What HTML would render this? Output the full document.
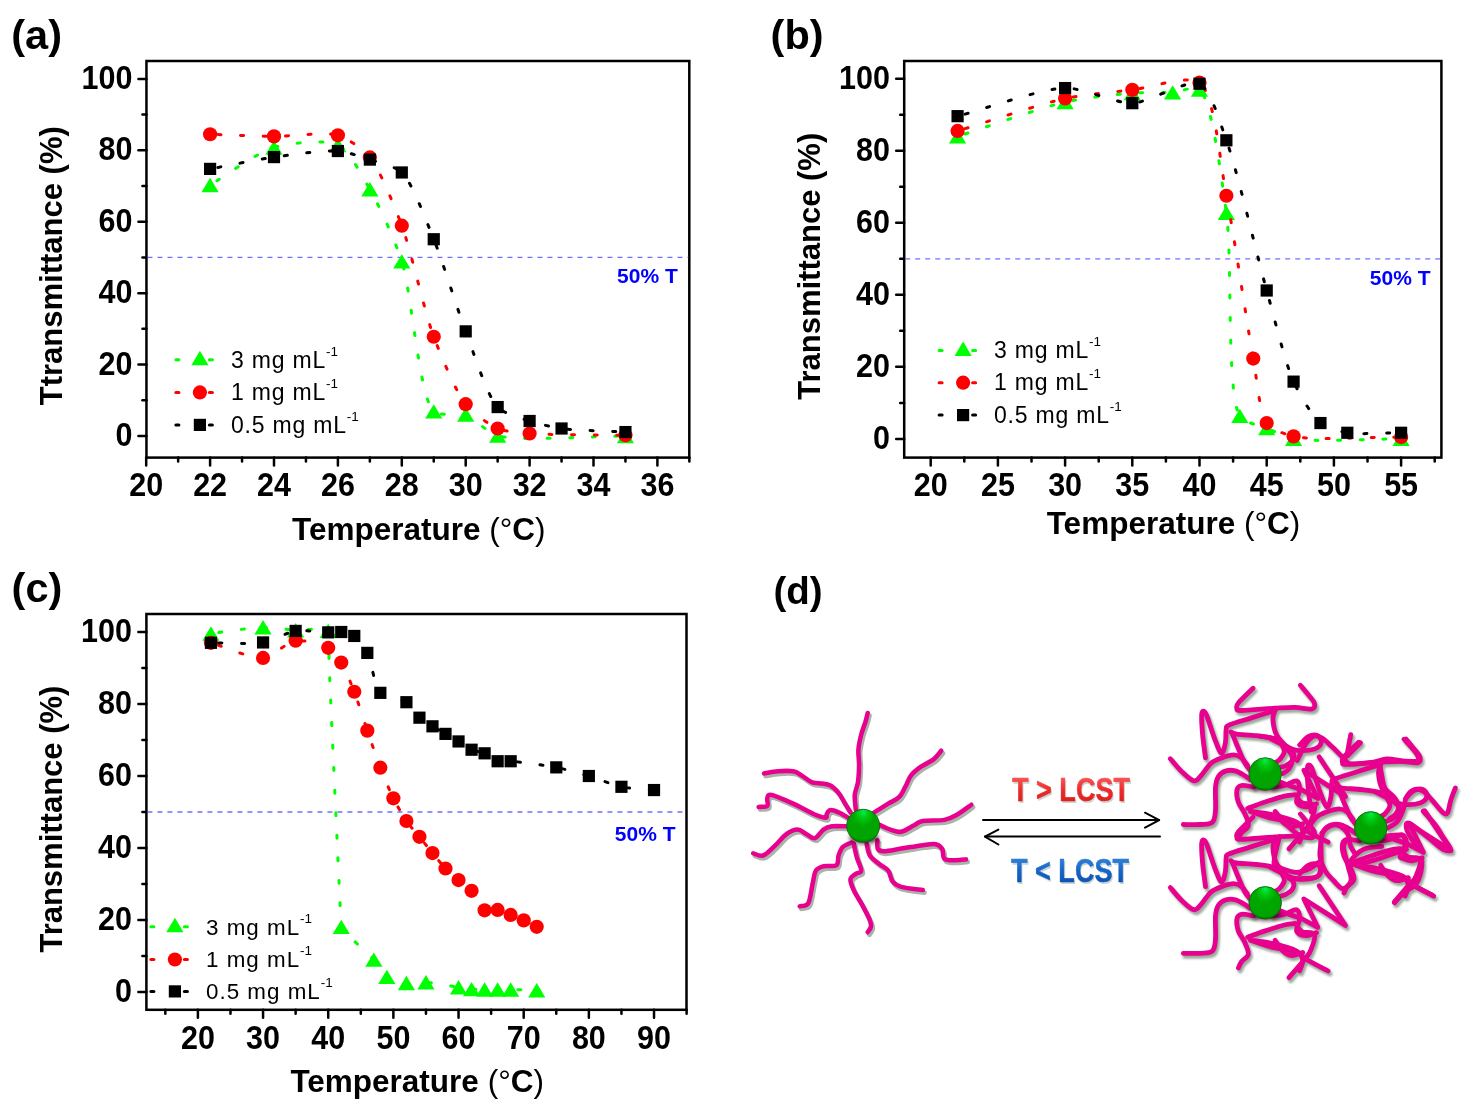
<!DOCTYPE html>
<html><head><meta charset="utf-8"><title>Figure</title>
<style>
html,body{margin:0;padding:0;background:#fff;}
body{width:1480px;height:1111px;overflow:hidden;}
svg{display:block;will-change:transform;}
text{font-family:"Liberation Sans", sans-serif;}
.tk{font-size:30.5px;font-weight:bold;fill:#000;}
.ax{font-size:31.5px;font-weight:bold;fill:#000;}
.nw{font-weight:normal;}
.lg{font-size:23px;fill:#000;letter-spacing:1.1px;}
.sup{font-size:13.5px;letter-spacing:0;}
.ft{font-size:21px;font-weight:bold;fill:#0000ff;}
.pl{font-size:40px;font-weight:bold;fill:#000;}
</style></head>
<body>
<svg width="1480" height="1111" viewBox="0 0 1480 1111">
<rect width="1480" height="1111" fill="#fff"/>
<rect x="146.45" y="61" width="542.85" height="396.6" fill="none" stroke="#000" stroke-width="2.5"/>
<line x1="146.45" y1="436" x2="138.45" y2="436" stroke="#000" stroke-width="2.5" stroke-linecap="round"/>
<text transform="translate(132.5,446) scale(1,1.1)" text-anchor="end" class="tk">0</text>
<line x1="146.45" y1="400.29" x2="142.45" y2="400.29" stroke="#000" stroke-width="2.5" stroke-linecap="round"/>
<line x1="146.45" y1="364.58" x2="138.45" y2="364.58" stroke="#000" stroke-width="2.5" stroke-linecap="round"/>
<text transform="translate(132.5,374.58) scale(1,1.1)" text-anchor="end" class="tk">20</text>
<line x1="146.45" y1="328.87" x2="142.45" y2="328.87" stroke="#000" stroke-width="2.5" stroke-linecap="round"/>
<line x1="146.45" y1="293.16" x2="138.45" y2="293.16" stroke="#000" stroke-width="2.5" stroke-linecap="round"/>
<text transform="translate(132.5,303.16) scale(1,1.1)" text-anchor="end" class="tk">40</text>
<line x1="146.45" y1="257.45" x2="142.45" y2="257.45" stroke="#000" stroke-width="2.5" stroke-linecap="round"/>
<line x1="146.45" y1="221.74" x2="138.45" y2="221.74" stroke="#000" stroke-width="2.5" stroke-linecap="round"/>
<text transform="translate(132.5,231.74) scale(1,1.1)" text-anchor="end" class="tk">60</text>
<line x1="146.45" y1="186.03" x2="142.45" y2="186.03" stroke="#000" stroke-width="2.5" stroke-linecap="round"/>
<line x1="146.45" y1="150.32" x2="138.45" y2="150.32" stroke="#000" stroke-width="2.5" stroke-linecap="round"/>
<text transform="translate(132.5,160.32) scale(1,1.1)" text-anchor="end" class="tk">80</text>
<line x1="146.45" y1="114.61" x2="142.45" y2="114.61" stroke="#000" stroke-width="2.5" stroke-linecap="round"/>
<line x1="146.45" y1="78.9" x2="138.45" y2="78.9" stroke="#000" stroke-width="2.5" stroke-linecap="round"/>
<text transform="translate(132.5,88.9) scale(1,1.1)" text-anchor="end" class="tk">100</text>
<line x1="178.15" y1="457.6" x2="178.15" y2="461.6" stroke="#000" stroke-width="2.5" stroke-linecap="round"/>
<line x1="242.05" y1="457.6" x2="242.05" y2="461.6" stroke="#000" stroke-width="2.5" stroke-linecap="round"/>
<line x1="305.95" y1="457.6" x2="305.95" y2="461.6" stroke="#000" stroke-width="2.5" stroke-linecap="round"/>
<line x1="369.85" y1="457.6" x2="369.85" y2="461.6" stroke="#000" stroke-width="2.5" stroke-linecap="round"/>
<line x1="433.75" y1="457.6" x2="433.75" y2="461.6" stroke="#000" stroke-width="2.5" stroke-linecap="round"/>
<line x1="497.65" y1="457.6" x2="497.65" y2="461.6" stroke="#000" stroke-width="2.5" stroke-linecap="round"/>
<line x1="561.55" y1="457.6" x2="561.55" y2="461.6" stroke="#000" stroke-width="2.5" stroke-linecap="round"/>
<line x1="625.45" y1="457.6" x2="625.45" y2="461.6" stroke="#000" stroke-width="2.5" stroke-linecap="round"/>
<line x1="689.35" y1="457.6" x2="689.35" y2="461.6" stroke="#000" stroke-width="2.5" stroke-linecap="round"/>
<line x1="146.2" y1="457.6" x2="146.2" y2="465.6" stroke="#000" stroke-width="2.5" stroke-linecap="round"/>
<text transform="translate(146.2,496) scale(1,1.1)" text-anchor="middle" class="tk">20</text>
<line x1="210.1" y1="457.6" x2="210.1" y2="465.6" stroke="#000" stroke-width="2.5" stroke-linecap="round"/>
<text transform="translate(210.1,496) scale(1,1.1)" text-anchor="middle" class="tk">22</text>
<line x1="274" y1="457.6" x2="274" y2="465.6" stroke="#000" stroke-width="2.5" stroke-linecap="round"/>
<text transform="translate(274,496) scale(1,1.1)" text-anchor="middle" class="tk">24</text>
<line x1="337.9" y1="457.6" x2="337.9" y2="465.6" stroke="#000" stroke-width="2.5" stroke-linecap="round"/>
<text transform="translate(337.9,496) scale(1,1.1)" text-anchor="middle" class="tk">26</text>
<line x1="401.8" y1="457.6" x2="401.8" y2="465.6" stroke="#000" stroke-width="2.5" stroke-linecap="round"/>
<text transform="translate(401.8,496) scale(1,1.1)" text-anchor="middle" class="tk">28</text>
<line x1="465.7" y1="457.6" x2="465.7" y2="465.6" stroke="#000" stroke-width="2.5" stroke-linecap="round"/>
<text transform="translate(465.7,496) scale(1,1.1)" text-anchor="middle" class="tk">30</text>
<line x1="529.6" y1="457.6" x2="529.6" y2="465.6" stroke="#000" stroke-width="2.5" stroke-linecap="round"/>
<text transform="translate(529.6,496) scale(1,1.1)" text-anchor="middle" class="tk">32</text>
<line x1="593.5" y1="457.6" x2="593.5" y2="465.6" stroke="#000" stroke-width="2.5" stroke-linecap="round"/>
<text transform="translate(593.5,496) scale(1,1.1)" text-anchor="middle" class="tk">34</text>
<line x1="657.4" y1="457.6" x2="657.4" y2="465.6" stroke="#000" stroke-width="2.5" stroke-linecap="round"/>
<text transform="translate(657.4,496) scale(1,1.1)" text-anchor="middle" class="tk">36</text>
<line x1="147.45" y1="257.45" x2="688.3" y2="257.45" stroke="#7070ff" stroke-width="1.3" stroke-dasharray="5 5"/>
<text x="677.8" y="283.3" text-anchor="end" class="ft">50% T</text>
<path d="M210.1,184.96 C226.07,175.58 257.39,152.33 274,147.46 C289.43,142.94 325.74,139.04 337.9,144.96 C349.14,150.44 362.47,176.39 369.85,189.24 C378.72,204.7 394.76,239.64 401.8,261.38 C411.62,291.68 419.27,398.38 433.75,411.36 C440.38,417.3 458.03,411.85 465.7,414.57 C474.07,417.55 486.3,432.22 497.65,435.64 C518.38,441.9 593.5,435.91 625.45,436" fill="none" stroke="#00ff00" stroke-width="3" stroke-linecap="round" stroke-dasharray="3 19.5" stroke-dashoffset="-8"/>
<path d="M210.1,177.76 L218.7,192.16 L201.5,192.16Z" fill="#00ff00"/>
<path d="M274,140.26 L282.6,154.66 L265.4,154.66Z" fill="#00ff00"/>
<path d="M337.9,137.76 L346.5,152.16 L329.3,152.16Z" fill="#00ff00"/>
<path d="M369.85,182.04 L378.45,196.44 L361.25,196.44Z" fill="#00ff00"/>
<path d="M401.8,254.18 L410.4,268.58 L393.2,268.58Z" fill="#00ff00"/>
<path d="M433.75,404.16 L442.35,418.56 L425.15,418.56Z" fill="#00ff00"/>
<path d="M465.7,407.37 L474.3,421.77 L457.1,421.77Z" fill="#00ff00"/>
<path d="M497.65,428.44 L506.25,442.84 L489.05,442.84Z" fill="#00ff00"/>
<path d="M625.45,428.8 L634.05,443.2 L616.85,443.2Z" fill="#00ff00"/>
<path d="M210.1,134.25 C226.07,134.79 258.02,136.26 274,136.39 C289.97,136.53 325.15,131.45 337.9,135.32 C347.85,138.34 362.8,149.12 369.85,157.46 C379.66,169.07 394.5,206.22 401.8,225.67 C410.84,249.76 424.68,312.72 433.75,336.73 C441.04,356.03 456.03,392.3 465.7,404.22 C472.79,412.95 489.18,424.9 497.65,428.5 C505.25,431.74 519.43,432.61 529.6,433.5 C547.1,435.03 601.49,434.84 625.45,435.29" fill="none" stroke="#ff0000" stroke-width="3" stroke-linecap="round" stroke-dasharray="3 19.5" stroke-dashoffset="-8"/>
<circle cx="210.1" cy="134.25" r="7.1" fill="#ff0000"/>
<circle cx="274" cy="136.39" r="7.1" fill="#ff0000"/>
<circle cx="337.9" cy="135.32" r="7.1" fill="#ff0000"/>
<circle cx="369.85" cy="157.46" r="7.1" fill="#ff0000"/>
<circle cx="401.8" cy="225.67" r="7.1" fill="#ff0000"/>
<circle cx="433.75" cy="336.73" r="7.1" fill="#ff0000"/>
<circle cx="465.7" cy="404.22" r="7.1" fill="#ff0000"/>
<circle cx="497.65" cy="428.5" r="7.1" fill="#ff0000"/>
<circle cx="529.6" cy="433.5" r="7.1" fill="#ff0000"/>
<circle cx="625.45" cy="435.29" r="7.1" fill="#ff0000"/>
<path d="M210.1,168.89 C226.07,165.94 257.98,159.34 274,157.1 C289.93,154.88 324.75,149.93 337.9,151.03 C347.34,151.83 361.94,156.96 369.85,159.6 C377.92,162.3 394.84,165.93 401.8,172.46 C412,182.03 426.24,220.97 433.75,239.24 C442.37,260.2 457.34,309.6 465.7,331.37 C473.37,351.36 487.07,396.37 497.65,407.07 C504.54,414.04 521.49,418.31 529.6,421 C537.47,423.62 552.12,427.14 561.55,428.5 C574.72,430.4 609.48,431.18 625.45,432.07" fill="none" stroke="#000000" stroke-width="3" stroke-linecap="round" stroke-dasharray="3 19.5" stroke-dashoffset="-8"/>
<rect x="204" y="162.79" width="12.2" height="12.2" fill="#000000"/>
<rect x="267.9" y="151" width="12.2" height="12.2" fill="#000000"/>
<rect x="331.8" y="144.93" width="12.2" height="12.2" fill="#000000"/>
<rect x="363.75" y="153.5" width="12.2" height="12.2" fill="#000000"/>
<rect x="395.7" y="166.36" width="12.2" height="12.2" fill="#000000"/>
<rect x="427.65" y="233.14" width="12.2" height="12.2" fill="#000000"/>
<rect x="459.6" y="325.27" width="12.2" height="12.2" fill="#000000"/>
<rect x="491.55" y="400.97" width="12.2" height="12.2" fill="#000000"/>
<rect x="523.5" y="414.9" width="12.2" height="12.2" fill="#000000"/>
<rect x="555.45" y="422.4" width="12.2" height="12.2" fill="#000000"/>
<rect x="619.35" y="425.97" width="12.2" height="12.2" fill="#000000"/>
<line x1="175.9" y1="359.8" x2="178.9" y2="359.8" stroke="#00ff00" stroke-width="3" stroke-linecap="round"/>
<line x1="209.4" y1="359.8" x2="212.4" y2="359.8" stroke="#00ff00" stroke-width="3" stroke-linecap="round"/>
<path d="M199.9,350.8 L208.5,365.2 L191.3,365.2Z" fill="#00ff00"/>
<text x="231" y="367.5" class="lg" style="font-size:23px;letter-spacing:0.8px">3 mg mL<tspan dy="-12" class="sup">-1</tspan></text>
<line x1="175.9" y1="392.4" x2="178.9" y2="392.4" stroke="#ff0000" stroke-width="3" stroke-linecap="round"/>
<line x1="209.4" y1="392.4" x2="212.4" y2="392.4" stroke="#ff0000" stroke-width="3" stroke-linecap="round"/>
<circle cx="199.9" cy="392.4" r="7.1" fill="#ff0000"/>
<text x="231" y="400.1" class="lg" style="font-size:23px;letter-spacing:0.8px">1 mg mL<tspan dy="-12" class="sup">-1</tspan></text>
<line x1="175.9" y1="424.9" x2="178.9" y2="424.9" stroke="#000000" stroke-width="3" stroke-linecap="round"/>
<line x1="209.4" y1="424.9" x2="212.4" y2="424.9" stroke="#000000" stroke-width="3" stroke-linecap="round"/>
<rect x="193.8" y="418.8" width="12.2" height="12.2" fill="#000000"/>
<text x="231" y="432.6" class="lg" style="font-size:23px;letter-spacing:0.8px">0.5 mg mL<tspan dy="-12" class="sup">-1</tspan></text>
<text transform="translate(62,265.7) rotate(-90)" text-anchor="middle" class="ax" style="font-size:31px">Ttransmittance (%)</text>
<text x="418.8" y="539.7" text-anchor="middle" class="ax">Temperature <tspan class="nw">(°</tspan>C<tspan class="nw">)</tspan></text>
<rect x="904.2" y="61" width="537.2" height="396.6" fill="none" stroke="#000" stroke-width="2.5"/>
<line x1="904.2" y1="438.9" x2="896.2" y2="438.9" stroke="#000" stroke-width="2.5" stroke-linecap="round"/>
<text transform="translate(890,448.9) scale(1,1.1)" text-anchor="end" class="tk">0</text>
<line x1="904.2" y1="402.88" x2="900.2" y2="402.88" stroke="#000" stroke-width="2.5" stroke-linecap="round"/>
<line x1="904.2" y1="366.86" x2="896.2" y2="366.86" stroke="#000" stroke-width="2.5" stroke-linecap="round"/>
<text transform="translate(890,376.86) scale(1,1.1)" text-anchor="end" class="tk">20</text>
<line x1="904.2" y1="330.84" x2="900.2" y2="330.84" stroke="#000" stroke-width="2.5" stroke-linecap="round"/>
<line x1="904.2" y1="294.82" x2="896.2" y2="294.82" stroke="#000" stroke-width="2.5" stroke-linecap="round"/>
<text transform="translate(890,304.82) scale(1,1.1)" text-anchor="end" class="tk">40</text>
<line x1="904.2" y1="258.8" x2="900.2" y2="258.8" stroke="#000" stroke-width="2.5" stroke-linecap="round"/>
<line x1="904.2" y1="222.78" x2="896.2" y2="222.78" stroke="#000" stroke-width="2.5" stroke-linecap="round"/>
<text transform="translate(890,232.78) scale(1,1.1)" text-anchor="end" class="tk">60</text>
<line x1="904.2" y1="186.76" x2="900.2" y2="186.76" stroke="#000" stroke-width="2.5" stroke-linecap="round"/>
<line x1="904.2" y1="150.74" x2="896.2" y2="150.74" stroke="#000" stroke-width="2.5" stroke-linecap="round"/>
<text transform="translate(890,160.74) scale(1,1.1)" text-anchor="end" class="tk">80</text>
<line x1="904.2" y1="114.72" x2="900.2" y2="114.72" stroke="#000" stroke-width="2.5" stroke-linecap="round"/>
<line x1="904.2" y1="78.7" x2="896.2" y2="78.7" stroke="#000" stroke-width="2.5" stroke-linecap="round"/>
<text transform="translate(890,88.7) scale(1,1.1)" text-anchor="end" class="tk">100</text>
<line x1="964.3" y1="457.6" x2="964.3" y2="461.6" stroke="#000" stroke-width="2.5" stroke-linecap="round"/>
<line x1="1031.5" y1="457.6" x2="1031.5" y2="461.6" stroke="#000" stroke-width="2.5" stroke-linecap="round"/>
<line x1="1098.7" y1="457.6" x2="1098.7" y2="461.6" stroke="#000" stroke-width="2.5" stroke-linecap="round"/>
<line x1="1165.9" y1="457.6" x2="1165.9" y2="461.6" stroke="#000" stroke-width="2.5" stroke-linecap="round"/>
<line x1="1233.1" y1="457.6" x2="1233.1" y2="461.6" stroke="#000" stroke-width="2.5" stroke-linecap="round"/>
<line x1="1300.3" y1="457.6" x2="1300.3" y2="461.6" stroke="#000" stroke-width="2.5" stroke-linecap="round"/>
<line x1="1367.5" y1="457.6" x2="1367.5" y2="461.6" stroke="#000" stroke-width="2.5" stroke-linecap="round"/>
<line x1="1434.7" y1="457.6" x2="1434.7" y2="461.6" stroke="#000" stroke-width="2.5" stroke-linecap="round"/>
<line x1="930.7" y1="457.6" x2="930.7" y2="465.6" stroke="#000" stroke-width="2.5" stroke-linecap="round"/>
<text transform="translate(930.7,496) scale(1,1.1)" text-anchor="middle" class="tk">20</text>
<line x1="997.9" y1="457.6" x2="997.9" y2="465.6" stroke="#000" stroke-width="2.5" stroke-linecap="round"/>
<text transform="translate(997.9,496) scale(1,1.1)" text-anchor="middle" class="tk">25</text>
<line x1="1065.1" y1="457.6" x2="1065.1" y2="465.6" stroke="#000" stroke-width="2.5" stroke-linecap="round"/>
<text transform="translate(1065.1,496) scale(1,1.1)" text-anchor="middle" class="tk">30</text>
<line x1="1132.3" y1="457.6" x2="1132.3" y2="465.6" stroke="#000" stroke-width="2.5" stroke-linecap="round"/>
<text transform="translate(1132.3,496) scale(1,1.1)" text-anchor="middle" class="tk">35</text>
<line x1="1199.5" y1="457.6" x2="1199.5" y2="465.6" stroke="#000" stroke-width="2.5" stroke-linecap="round"/>
<text transform="translate(1199.5,496) scale(1,1.1)" text-anchor="middle" class="tk">40</text>
<line x1="1266.7" y1="457.6" x2="1266.7" y2="465.6" stroke="#000" stroke-width="2.5" stroke-linecap="round"/>
<text transform="translate(1266.7,496) scale(1,1.1)" text-anchor="middle" class="tk">45</text>
<line x1="1333.9" y1="457.6" x2="1333.9" y2="465.6" stroke="#000" stroke-width="2.5" stroke-linecap="round"/>
<text transform="translate(1333.9,496) scale(1,1.1)" text-anchor="middle" class="tk">50</text>
<line x1="1401.1" y1="457.6" x2="1401.1" y2="465.6" stroke="#000" stroke-width="2.5" stroke-linecap="round"/>
<text transform="translate(1401.1,496) scale(1,1.1)" text-anchor="middle" class="tk">55</text>
<line x1="905.2" y1="258.8" x2="1440.4" y2="258.8" stroke="#7070ff" stroke-width="1.3" stroke-dasharray="5 5"/>
<text x="1430.5" y="284.5" text-anchor="end" class="ft">50% T</text>
<path d="M957.58,136.33 C984.46,127.78 1041.15,107.48 1065.1,102.11 C1083.66,97.95 1117.61,94.22 1132.3,93.11 C1143.63,92.25 1163.57,92.95 1172.62,92.39 C1180.03,91.93 1193.92,85.49 1199.5,89.51 C1211.55,98.19 1221.45,177.86 1226.38,212.69 C1232.64,256.96 1226.12,396.02 1239.82,415.85 C1245.04,423.4 1259.95,425.2 1266.7,428.09 C1273.39,430.96 1284.39,437.12 1293.58,438.9 C1311.29,442.33 1374.22,438.9 1401.1,438.9" fill="none" stroke="#00ff00" stroke-width="3" stroke-linecap="round" stroke-dasharray="3 19.5" stroke-dashoffset="-8"/>
<path d="M957.58,129.13 L966.18,143.53 L948.98,143.53Z" fill="#00ff00"/>
<path d="M1065.1,94.91 L1073.7,109.31 L1056.5,109.31Z" fill="#00ff00"/>
<path d="M1132.3,85.91 L1140.9,100.31 L1123.7,100.31Z" fill="#00ff00"/>
<path d="M1172.62,85.19 L1181.22,99.59 L1164.02,99.59Z" fill="#00ff00"/>
<path d="M1199.5,82.31 L1208.1,96.71 L1190.9,96.71Z" fill="#00ff00"/>
<path d="M1226.38,205.49 L1234.98,219.89 L1217.78,219.89Z" fill="#00ff00"/>
<path d="M1239.82,408.65 L1248.42,423.05 L1231.22,423.05Z" fill="#00ff00"/>
<path d="M1266.7,420.89 L1275.3,435.29 L1258.1,435.29Z" fill="#00ff00"/>
<path d="M1293.58,431.7 L1302.18,446.1 L1284.98,446.1Z" fill="#00ff00"/>
<path d="M1401.1,431.7 L1409.7,446.1 L1392.5,446.1Z" fill="#00ff00"/>
<path d="M957.58,130.93 C984.46,122.82 1041.18,103.62 1065.1,98.51 C1083.68,94.54 1115.49,91.85 1132.3,89.87 C1149.09,87.89 1187.75,74.36 1199.5,82.66 C1214.91,93.55 1220.15,164.8 1226.38,195.76 C1233.8,232.65 1247.4,327.18 1253.26,358.58 C1256.96,378.41 1259.4,413.61 1266.7,423.05 C1271.63,429.42 1284.27,434.17 1293.58,436.38 C1311.2,440.57 1374.22,436.92 1401.1,437.1" fill="none" stroke="#ff0000" stroke-width="3" stroke-linecap="round" stroke-dasharray="3 19.5" stroke-dashoffset="-8"/>
<circle cx="957.58" cy="130.93" r="7.1" fill="#ff0000"/>
<circle cx="1065.1" cy="98.51" r="7.1" fill="#ff0000"/>
<circle cx="1132.3" cy="89.87" r="7.1" fill="#ff0000"/>
<circle cx="1199.5" cy="82.66" r="7.1" fill="#ff0000"/>
<circle cx="1226.38" cy="195.76" r="7.1" fill="#ff0000"/>
<circle cx="1253.26" cy="358.58" r="7.1" fill="#ff0000"/>
<circle cx="1266.7" cy="423.05" r="7.1" fill="#ff0000"/>
<circle cx="1293.58" cy="436.38" r="7.1" fill="#ff0000"/>
<circle cx="1401.1" cy="437.1" r="7.1" fill="#ff0000"/>
<path d="M957.58,116.16 C984.46,109.14 1041.32,88.47 1065.1,88.07 C1083.82,87.75 1115.56,103.7 1132.3,103.19 C1149.17,102.68 1187.68,78.43 1199.5,83.74 C1210.68,88.77 1219.79,122.4 1226.38,140.29 C1236.77,168.5 1257.45,257.66 1266.7,290.5 C1273.93,316.16 1285.35,363.74 1293.58,381.63 C1299.51,394.53 1312.54,416.76 1320.46,423.05 C1326.49,427.84 1339.32,431.37 1347.34,432.78 C1358.34,434.7 1387.66,432.78 1401.1,432.78" fill="none" stroke="#000000" stroke-width="3" stroke-linecap="round" stroke-dasharray="3 19.5" stroke-dashoffset="-8"/>
<rect x="951.48" y="110.06" width="12.2" height="12.2" fill="#000000"/>
<rect x="1059" y="81.97" width="12.2" height="12.2" fill="#000000"/>
<rect x="1126.2" y="97.09" width="12.2" height="12.2" fill="#000000"/>
<rect x="1193.4" y="77.64" width="12.2" height="12.2" fill="#000000"/>
<rect x="1220.28" y="134.19" width="12.2" height="12.2" fill="#000000"/>
<rect x="1260.6" y="284.4" width="12.2" height="12.2" fill="#000000"/>
<rect x="1287.48" y="375.53" width="12.2" height="12.2" fill="#000000"/>
<rect x="1314.36" y="416.95" width="12.2" height="12.2" fill="#000000"/>
<rect x="1341.24" y="426.68" width="12.2" height="12.2" fill="#000000"/>
<rect x="1395" y="426.68" width="12.2" height="12.2" fill="#000000"/>
<line x1="939.1" y1="350.5" x2="942.1" y2="350.5" stroke="#00ff00" stroke-width="3" stroke-linecap="round"/>
<line x1="972.6" y1="350.5" x2="975.6" y2="350.5" stroke="#00ff00" stroke-width="3" stroke-linecap="round"/>
<path d="M963.1,341.5 L971.7,355.9 L954.5,355.9Z" fill="#00ff00"/>
<text x="994" y="358.2" class="lg" style="font-size:23px;letter-spacing:0.8px">3 mg mL<tspan dy="-12" class="sup">-1</tspan></text>
<line x1="939.1" y1="382.7" x2="942.1" y2="382.7" stroke="#ff0000" stroke-width="3" stroke-linecap="round"/>
<line x1="972.6" y1="382.7" x2="975.6" y2="382.7" stroke="#ff0000" stroke-width="3" stroke-linecap="round"/>
<circle cx="963.1" cy="382.7" r="7.1" fill="#ff0000"/>
<text x="994" y="390.4" class="lg" style="font-size:23px;letter-spacing:0.8px">1 mg mL<tspan dy="-12" class="sup">-1</tspan></text>
<line x1="939.1" y1="415.1" x2="942.1" y2="415.1" stroke="#000000" stroke-width="3" stroke-linecap="round"/>
<line x1="972.6" y1="415.1" x2="975.6" y2="415.1" stroke="#000000" stroke-width="3" stroke-linecap="round"/>
<rect x="957" y="409" width="12.2" height="12.2" fill="#000000"/>
<text x="994" y="422.8" class="lg" style="font-size:23px;letter-spacing:0.8px">0.5 mg mL<tspan dy="-12" class="sup">-1</tspan></text>
<text transform="translate(820,266.3) rotate(-90)" text-anchor="middle" class="ax" style="font-size:31px">Transmittance (%)</text>
<text x="1173.5" y="534.3" text-anchor="middle" class="ax">Temperature <tspan class="nw">(°</tspan>C<tspan class="nw">)</tspan></text>
<rect x="146.4" y="614" width="540.1" height="395.8" fill="none" stroke="#000" stroke-width="2.5"/>
<line x1="146.4" y1="992" x2="138.4" y2="992" stroke="#000" stroke-width="2.5" stroke-linecap="round"/>
<text transform="translate(132,1002) scale(1,1.1)" text-anchor="end" class="tk">0</text>
<line x1="146.4" y1="956" x2="142.4" y2="956" stroke="#000" stroke-width="2.5" stroke-linecap="round"/>
<line x1="146.4" y1="920" x2="138.4" y2="920" stroke="#000" stroke-width="2.5" stroke-linecap="round"/>
<text transform="translate(132,930) scale(1,1.1)" text-anchor="end" class="tk">20</text>
<line x1="146.4" y1="884" x2="142.4" y2="884" stroke="#000" stroke-width="2.5" stroke-linecap="round"/>
<line x1="146.4" y1="848" x2="138.4" y2="848" stroke="#000" stroke-width="2.5" stroke-linecap="round"/>
<text transform="translate(132,858) scale(1,1.1)" text-anchor="end" class="tk">40</text>
<line x1="146.4" y1="812" x2="142.4" y2="812" stroke="#000" stroke-width="2.5" stroke-linecap="round"/>
<line x1="146.4" y1="776" x2="138.4" y2="776" stroke="#000" stroke-width="2.5" stroke-linecap="round"/>
<text transform="translate(132,786) scale(1,1.1)" text-anchor="end" class="tk">60</text>
<line x1="146.4" y1="740" x2="142.4" y2="740" stroke="#000" stroke-width="2.5" stroke-linecap="round"/>
<line x1="146.4" y1="704" x2="138.4" y2="704" stroke="#000" stroke-width="2.5" stroke-linecap="round"/>
<text transform="translate(132,714) scale(1,1.1)" text-anchor="end" class="tk">80</text>
<line x1="146.4" y1="668" x2="142.4" y2="668" stroke="#000" stroke-width="2.5" stroke-linecap="round"/>
<line x1="146.4" y1="632" x2="138.4" y2="632" stroke="#000" stroke-width="2.5" stroke-linecap="round"/>
<text transform="translate(132,642) scale(1,1.1)" text-anchor="end" class="tk">100</text>
<line x1="165.32" y1="1009.8" x2="165.32" y2="1013.8" stroke="#000" stroke-width="2.5" stroke-linecap="round"/>
<line x1="230.48" y1="1009.8" x2="230.48" y2="1013.8" stroke="#000" stroke-width="2.5" stroke-linecap="round"/>
<line x1="295.64" y1="1009.8" x2="295.64" y2="1013.8" stroke="#000" stroke-width="2.5" stroke-linecap="round"/>
<line x1="360.8" y1="1009.8" x2="360.8" y2="1013.8" stroke="#000" stroke-width="2.5" stroke-linecap="round"/>
<line x1="425.96" y1="1009.8" x2="425.96" y2="1013.8" stroke="#000" stroke-width="2.5" stroke-linecap="round"/>
<line x1="491.12" y1="1009.8" x2="491.12" y2="1013.8" stroke="#000" stroke-width="2.5" stroke-linecap="round"/>
<line x1="556.28" y1="1009.8" x2="556.28" y2="1013.8" stroke="#000" stroke-width="2.5" stroke-linecap="round"/>
<line x1="621.44" y1="1009.8" x2="621.44" y2="1013.8" stroke="#000" stroke-width="2.5" stroke-linecap="round"/>
<line x1="686.6" y1="1009.8" x2="686.6" y2="1013.8" stroke="#000" stroke-width="2.5" stroke-linecap="round"/>
<line x1="197.9" y1="1009.8" x2="197.9" y2="1017.8" stroke="#000" stroke-width="2.5" stroke-linecap="round"/>
<text transform="translate(197.9,1049) scale(1,1.1)" text-anchor="middle" class="tk">20</text>
<line x1="263.06" y1="1009.8" x2="263.06" y2="1017.8" stroke="#000" stroke-width="2.5" stroke-linecap="round"/>
<text transform="translate(263.06,1049) scale(1,1.1)" text-anchor="middle" class="tk">30</text>
<line x1="328.22" y1="1009.8" x2="328.22" y2="1017.8" stroke="#000" stroke-width="2.5" stroke-linecap="round"/>
<text transform="translate(328.22,1049) scale(1,1.1)" text-anchor="middle" class="tk">40</text>
<line x1="393.38" y1="1009.8" x2="393.38" y2="1017.8" stroke="#000" stroke-width="2.5" stroke-linecap="round"/>
<text transform="translate(393.38,1049) scale(1,1.1)" text-anchor="middle" class="tk">50</text>
<line x1="458.54" y1="1009.8" x2="458.54" y2="1017.8" stroke="#000" stroke-width="2.5" stroke-linecap="round"/>
<text transform="translate(458.54,1049) scale(1,1.1)" text-anchor="middle" class="tk">60</text>
<line x1="523.7" y1="1009.8" x2="523.7" y2="1017.8" stroke="#000" stroke-width="2.5" stroke-linecap="round"/>
<text transform="translate(523.7,1049) scale(1,1.1)" text-anchor="middle" class="tk">70</text>
<line x1="588.86" y1="1009.8" x2="588.86" y2="1017.8" stroke="#000" stroke-width="2.5" stroke-linecap="round"/>
<text transform="translate(588.86,1049) scale(1,1.1)" text-anchor="middle" class="tk">80</text>
<line x1="654.02" y1="1009.8" x2="654.02" y2="1017.8" stroke="#000" stroke-width="2.5" stroke-linecap="round"/>
<text transform="translate(654.02,1049) scale(1,1.1)" text-anchor="middle" class="tk">90</text>
<line x1="147.4" y1="812" x2="685.5" y2="812" stroke="#7070ff" stroke-width="1.3" stroke-dasharray="5 5"/>
<text x="675.5" y="840.5" text-anchor="end" class="ft">50% T</text>
<path d="M210.93,633.44 C223.96,631.91 251.54,627.49 263.06,627.32 C272.15,627.19 287.49,629.75 295.64,630.2 C303.78,630.65 324.13,626.85 328.22,630.92 C332.14,634.82 328.6,649.68 329,660.8 C330.17,693.22 339.47,891.75 340.6,914.6 C340.85,919.62 339.72,923.39 341.25,926.84 C344.23,933.55 367.7,952.53 373.83,959.6 C378.03,964.44 382.71,973.95 386.86,976.88 C390.9,979.73 401.47,982.34 406.41,983 C411.24,983.65 420.47,981.96 425.96,982.28 C433.09,982.7 452.23,986.4 458.54,987.32 C462.53,987.9 468.31,988.85 471.57,989.12 C474.82,989.39 481.35,989.44 484.6,989.48 C487.86,989.52 494.38,989.48 497.64,989.48 C500.89,989.48 506.85,989.43 510.67,989.48 C516.07,989.55 530.22,990.02 536.73,990.2" fill="none" stroke="#00ff00" stroke-width="3" stroke-linecap="round" stroke-dasharray="3 19.5" stroke-dashoffset="-8"/>
<path d="M210.93,626.24 L219.53,640.64 L202.33,640.64Z" fill="#00ff00"/>
<path d="M263.06,620.12 L271.66,634.52 L254.46,634.52Z" fill="#00ff00"/>
<path d="M295.64,623 L304.24,637.4 L287.04,637.4Z" fill="#00ff00"/>
<path d="M328.22,623.72 L336.82,638.12 L319.62,638.12Z" fill="#00ff00"/>
<path d="M341.25,919.64 L349.85,934.04 L332.65,934.04Z" fill="#00ff00"/>
<path d="M373.83,952.4 L382.43,966.8 L365.23,966.8Z" fill="#00ff00"/>
<path d="M386.86,969.68 L395.46,984.08 L378.26,984.08Z" fill="#00ff00"/>
<path d="M406.41,975.8 L415.01,990.2 L397.81,990.2Z" fill="#00ff00"/>
<path d="M425.96,975.08 L434.56,989.48 L417.36,989.48Z" fill="#00ff00"/>
<path d="M458.54,980.12 L467.14,994.52 L449.94,994.52Z" fill="#00ff00"/>
<path d="M471.57,981.92 L480.17,996.32 L462.97,996.32Z" fill="#00ff00"/>
<path d="M484.6,982.28 L493.2,996.68 L476,996.68Z" fill="#00ff00"/>
<path d="M497.64,982.28 L506.24,996.68 L489.04,996.68Z" fill="#00ff00"/>
<path d="M510.67,982.28 L519.27,996.68 L502.07,996.68Z" fill="#00ff00"/>
<path d="M536.73,983 L545.33,997.4 L528.13,997.4Z" fill="#00ff00"/>
<path d="M210.93,642.8 C223.96,646.58 251.76,659.08 263.06,657.92 C272.38,656.96 287.28,641.78 295.64,640.64 C303.59,639.56 322.28,644.34 328.22,647.84 C332.78,650.53 338.3,658.02 341.25,662.6 C345.01,668.44 351.21,683.87 354.28,691.76 C357.77,700.7 364.02,721.05 367.32,730.64 C370.54,740.03 376.94,758.95 380.35,767.72 C383.48,775.79 389.9,791.34 393.38,798.32 C396.46,804.51 402.93,815.97 406.41,821 C409.49,825.46 416.2,832.85 419.44,836.84 C422.71,840.86 429.2,849.05 432.48,853.04 C435.71,856.97 442.12,865.05 445.51,868.52 C448.65,871.74 455.26,877.23 458.54,880.04 C461.78,882.81 468.54,887.48 471.57,890.84 C475.14,894.79 480.71,908.27 484.6,910.28 C487.51,911.78 494.43,909.37 497.64,909.92 C500.95,910.49 507.42,913.66 510.67,914.96 C513.93,916.27 520.47,918.89 523.7,920.36 C526.98,921.85 533.47,925.22 536.73,926.84" fill="none" stroke="#ff0000" stroke-width="3" stroke-linecap="round" stroke-dasharray="3 19.5" stroke-dashoffset="-8"/>
<circle cx="210.93" cy="642.8" r="7.1" fill="#ff0000"/>
<circle cx="263.06" cy="657.92" r="7.1" fill="#ff0000"/>
<circle cx="295.64" cy="640.64" r="7.1" fill="#ff0000"/>
<circle cx="328.22" cy="647.84" r="7.1" fill="#ff0000"/>
<circle cx="341.25" cy="662.6" r="7.1" fill="#ff0000"/>
<circle cx="354.28" cy="691.76" r="7.1" fill="#ff0000"/>
<circle cx="367.32" cy="730.64" r="7.1" fill="#ff0000"/>
<circle cx="380.35" cy="767.72" r="7.1" fill="#ff0000"/>
<circle cx="393.38" cy="798.32" r="7.1" fill="#ff0000"/>
<circle cx="406.41" cy="821" r="7.1" fill="#ff0000"/>
<circle cx="419.44" cy="836.84" r="7.1" fill="#ff0000"/>
<circle cx="432.48" cy="853.04" r="7.1" fill="#ff0000"/>
<circle cx="445.51" cy="868.52" r="7.1" fill="#ff0000"/>
<circle cx="458.54" cy="880.04" r="7.1" fill="#ff0000"/>
<circle cx="471.57" cy="890.84" r="7.1" fill="#ff0000"/>
<circle cx="484.6" cy="910.28" r="7.1" fill="#ff0000"/>
<circle cx="497.64" cy="909.92" r="7.1" fill="#ff0000"/>
<circle cx="510.67" cy="914.96" r="7.1" fill="#ff0000"/>
<circle cx="523.7" cy="920.36" r="7.1" fill="#ff0000"/>
<circle cx="536.73" cy="926.84" r="7.1" fill="#ff0000"/>
<path d="M210.93,642.8 C223.96,642.71 251.7,644.43 263.06,642.44 C272.31,640.82 287.37,632.15 295.64,630.92 C303.67,629.72 321.91,632.31 328.22,632.36 C332.21,632.39 338.03,631.57 341.25,632 C344.55,632.44 351.32,633.91 354.28,635.96 C358,638.53 364.45,647.45 367.32,652.88 C371.34,660.5 374.46,686.77 380.35,692.84 C385.13,697.76 401.35,698.68 406.41,702.2 C410.74,705.21 415.95,714.56 419.44,717.68 C422.52,720.42 429.19,724.28 432.48,726.32 C435.7,728.32 442.25,731.99 445.51,733.88 C448.77,735.77 455.3,739.47 458.54,741.44 C461.82,743.43 468.2,748.22 471.57,749.72 C474.73,751.12 481.44,751.95 484.6,753.32 C487.97,754.77 494.24,760.29 497.64,761.24 C500.78,762.12 506.43,760.96 510.67,761.24 C518.62,761.77 545.89,765.29 556.28,767.36 C565.17,769.13 580.75,773.58 588.86,776 C597.04,778.44 613.2,785.05 621.44,786.8 C629.49,788.51 645.88,789.23 654.02,790.04" fill="none" stroke="#000000" stroke-width="3" stroke-linecap="round" stroke-dasharray="3 19.5" stroke-dashoffset="-8"/>
<rect x="204.83" y="636.7" width="12.2" height="12.2" fill="#000000"/>
<rect x="256.96" y="636.34" width="12.2" height="12.2" fill="#000000"/>
<rect x="289.54" y="624.82" width="12.2" height="12.2" fill="#000000"/>
<rect x="322.12" y="626.26" width="12.2" height="12.2" fill="#000000"/>
<rect x="335.15" y="625.9" width="12.2" height="12.2" fill="#000000"/>
<rect x="348.18" y="629.86" width="12.2" height="12.2" fill="#000000"/>
<rect x="361.22" y="646.78" width="12.2" height="12.2" fill="#000000"/>
<rect x="374.25" y="686.74" width="12.2" height="12.2" fill="#000000"/>
<rect x="400.31" y="696.1" width="12.2" height="12.2" fill="#000000"/>
<rect x="413.34" y="711.58" width="12.2" height="12.2" fill="#000000"/>
<rect x="426.38" y="720.22" width="12.2" height="12.2" fill="#000000"/>
<rect x="439.41" y="727.78" width="12.2" height="12.2" fill="#000000"/>
<rect x="452.44" y="735.34" width="12.2" height="12.2" fill="#000000"/>
<rect x="465.47" y="743.62" width="12.2" height="12.2" fill="#000000"/>
<rect x="478.5" y="747.22" width="12.2" height="12.2" fill="#000000"/>
<rect x="491.54" y="755.14" width="12.2" height="12.2" fill="#000000"/>
<rect x="504.57" y="755.14" width="12.2" height="12.2" fill="#000000"/>
<rect x="550.18" y="761.26" width="12.2" height="12.2" fill="#000000"/>
<rect x="582.76" y="769.9" width="12.2" height="12.2" fill="#000000"/>
<rect x="615.34" y="780.7" width="12.2" height="12.2" fill="#000000"/>
<rect x="647.92" y="783.94" width="12.2" height="12.2" fill="#000000"/>
<line x1="150.9" y1="926.8" x2="153.9" y2="926.8" stroke="#00ff00" stroke-width="3" stroke-linecap="round"/>
<line x1="184.4" y1="926.8" x2="187.4" y2="926.8" stroke="#00ff00" stroke-width="3" stroke-linecap="round"/>
<path d="M174.9,917.8 L183.5,932.2 L166.3,932.2Z" fill="#00ff00"/>
<text x="206" y="934.5" class="lg" style="font-size:22.4px;letter-spacing:1.0px">3 mg mL<tspan dy="-12" class="sup">-1</tspan></text>
<line x1="150.9" y1="959.5" x2="153.9" y2="959.5" stroke="#ff0000" stroke-width="3" stroke-linecap="round"/>
<line x1="184.4" y1="959.5" x2="187.4" y2="959.5" stroke="#ff0000" stroke-width="3" stroke-linecap="round"/>
<circle cx="174.9" cy="959.5" r="7.1" fill="#ff0000"/>
<text x="206" y="967.2" class="lg" style="font-size:22.4px;letter-spacing:1.0px">1 mg mL<tspan dy="-12" class="sup">-1</tspan></text>
<line x1="150.9" y1="991.4" x2="153.9" y2="991.4" stroke="#000000" stroke-width="3" stroke-linecap="round"/>
<line x1="184.4" y1="991.4" x2="187.4" y2="991.4" stroke="#000000" stroke-width="3" stroke-linecap="round"/>
<rect x="168.8" y="985.3" width="12.2" height="12.2" fill="#000000"/>
<text x="206" y="999.1" class="lg" style="font-size:22.4px;letter-spacing:1.0px">0.5 mg mL<tspan dy="-12" class="sup">-1</tspan></text>
<text transform="translate(62,819.1) rotate(-90)" text-anchor="middle" class="ax" style="font-size:31px">Transmittance (%)</text>
<text x="417.2" y="1092" text-anchor="middle" class="ax">Temperature <tspan class="nw">(°</tspan>C<tspan class="nw">)</tspan></text>
<text x="11.3" y="49.2" class="pl" style="font-size:41.5px">(a)</text>
<text x="770.6" y="49.2" class="pl" style="font-size:41.5px">(b)</text>
<text x="11.6" y="602.1" class="pl" style="font-size:41.5px">(c)</text>
<text x="773.5" y="603.8" class="pl" style="font-size:38.5px">(d)</text>
<defs><radialGradient id="sph" cx="0.5" cy="0.35" r="0.7" fx="0.5" fy="0.06"><stop offset="0" stop-color="#00f050"/><stop offset="0.22" stop-color="#00c810"/><stop offset="0.45" stop-color="#00a600"/><stop offset="0.85" stop-color="#00a400"/><stop offset="1" stop-color="#006a00"/></radialGradient><filter id="blur1" x="-10%" y="-10%" width="120%" height="120%"><feGaussianBlur stdDeviation="0.9"/></filter><filter id="blur2" x="-50%" y="-50%" width="200%" height="200%"><feGaussianBlur stdDeviation="2"/></filter><linearGradient id="rg" x1="0" y1="0" x2="0" y2="1"><stop offset="0" stop-color="#ff6a6a"/><stop offset="0.5" stop-color="#f02a2a"/><stop offset="1" stop-color="#d81818"/></linearGradient><linearGradient id="bg" x1="0" y1="0" x2="0" y2="1"><stop offset="0" stop-color="#3d8de0"/><stop offset="0.5" stop-color="#1565c8"/><stop offset="1" stop-color="#0a4aa5"/></linearGradient></defs>
<g transform="translate(750,700) scale(0.21598)"><g transform="translate(8,12)" fill="none" stroke="#8d9c8d" stroke-width="22" stroke-linecap="round" stroke-linejoin="round" opacity="0.75" filter="url(#blur1)"><path d="M490,510 C489.2,498.3 483.3,461.7 485,440 C486.7,418.3 496.7,403.3 500,380 C503.3,356.7 504.7,325 505,300 C505.3,275 500.3,253.3 502,230 C503.7,206.7 509.5,181.7 515,160 C520.5,138.3 530,116.7 535,100 C540,83.3 543.3,66.7 545,60"/><path d="M575,520 C585.8,513.3 620.8,491.7 640,480 C659.2,468.3 676.7,463.3 690,450 C703.3,436.7 710.8,416.7 720,400 C729.2,383.3 733.3,365 745,350 C756.7,335 772.5,322.5 790,310 C807.5,297.5 834.2,287.5 850,275 C865.8,262.5 879.2,241.7 885,235"/><path d="M600,578 C608.3,581.7 633.3,594.7 650,600 C666.7,605.3 681.7,613.3 700,610 C718.3,606.7 743.3,588.3 760,580 C776.7,571.7 776.7,564.2 800,560 C823.3,555.8 873.3,560 900,555 C926.7,550 939.2,541.7 960,530 C980.8,518.3 1014.2,492.5 1025,485"/><path d="M590,650 C590.3,656.7 587,681.7 592,690 C597,698.3 602,700.3 620,700 C638,699.7 670,692.7 700,688 C730,683.3 773.3,675.3 800,672 C826.7,668.7 845,665 860,668 C875,671 883.3,678.8 890,690 C896.7,701.2 890,726.3 900,735 C910,743.7 933.3,741.5 950,742 C966.7,742.5 991.7,738.7 1000,738"/><path d="M540,665 C542.5,674.2 545,704.2 555,720 C565,735.8 585.8,748.3 600,760 C614.2,771.7 630,776.7 640,790 C650,803.3 650,827.5 660,840 C670,852.5 676.7,858.3 700,865 C723.3,871.7 783.3,877.5 800,880"/><path d="M480,665 C482.5,675.8 489.2,709.2 495,730 C500.8,750.8 515.8,777.5 515,790 C514.2,802.5 498.3,798.3 490,805 C481.7,811.7 466.7,817.5 465,830 C463.3,842.5 470.8,860 480,880 C489.2,900 507.5,926.7 520,950 C532.5,973.3 548.3,1003.3 555,1020 C561.7,1036.7 561.7,1040.8 560,1050 C558.3,1059.2 547.5,1070.8 545,1075"/><path d="M470,660 C463.3,663.3 440,670 430,680 C420,690 415,705.8 410,720 C405,734.2 411.7,756.7 400,765 C388.3,773.3 355.8,765.8 340,770 C324.2,774.2 313.3,776.7 305,790 C296.7,803.3 295.8,825 290,850 C284.2,875 280,922.5 270,940 C260,957.5 236.7,952.5 230,955"/><path d="M445,585 C434.2,585 397.5,582.5 380,585 C362.5,587.5 353.3,590.8 340,600 C326.7,609.2 313.3,636.7 300,640 C286.7,643.3 273.3,626.7 260,620 C246.7,613.3 235,600 220,600 C205,600 188.3,606.7 170,620 C151.7,633.3 128.3,663.3 110,680 C91.7,696.7 75.8,715 60,720 C44.2,725 22.5,711.7 15,710"/><path d="M455,545 C447.5,540.8 424.2,525.8 410,520 C395.8,514.2 379.2,508.3 370,510 C360.8,511.7 358.3,524.2 355,530 C351.7,535.8 359.2,545 350,545 C340.8,545 325,540.8 300,530 C275,519.2 233.3,495 200,480 C166.7,465 120,444.2 100,440 C80,435.8 83.3,446.7 80,455 C76.7,463.3 86.7,483.3 80,490 C73.3,496.7 46.7,494.2 40,495"/><path d="M465,520 C460.8,513.3 449.2,495 440,480 C430.8,465 421.7,444.2 410,430 C398.3,415.8 385,402.5 370,395 C355,387.5 334.2,387.5 320,385 C305.8,382.5 298.3,385.8 285,380 C271.7,374.2 254.2,358.3 240,350 C225.8,341.7 218.3,333.3 200,330 C181.7,326.7 152.5,328.3 130,330 C107.5,331.7 75.8,338.3 65,340"/></g><g fill="none" stroke="#e8008e" stroke-width="21" stroke-linecap="round" stroke-linejoin="round"><path d="M490,510 C489.2,498.3 483.3,461.7 485,440 C486.7,418.3 496.7,403.3 500,380 C503.3,356.7 504.7,325 505,300 C505.3,275 500.3,253.3 502,230 C503.7,206.7 509.5,181.7 515,160 C520.5,138.3 530,116.7 535,100 C540,83.3 543.3,66.7 545,60"/><path d="M575,520 C585.8,513.3 620.8,491.7 640,480 C659.2,468.3 676.7,463.3 690,450 C703.3,436.7 710.8,416.7 720,400 C729.2,383.3 733.3,365 745,350 C756.7,335 772.5,322.5 790,310 C807.5,297.5 834.2,287.5 850,275 C865.8,262.5 879.2,241.7 885,235"/><path d="M600,578 C608.3,581.7 633.3,594.7 650,600 C666.7,605.3 681.7,613.3 700,610 C718.3,606.7 743.3,588.3 760,580 C776.7,571.7 776.7,564.2 800,560 C823.3,555.8 873.3,560 900,555 C926.7,550 939.2,541.7 960,530 C980.8,518.3 1014.2,492.5 1025,485"/><path d="M590,650 C590.3,656.7 587,681.7 592,690 C597,698.3 602,700.3 620,700 C638,699.7 670,692.7 700,688 C730,683.3 773.3,675.3 800,672 C826.7,668.7 845,665 860,668 C875,671 883.3,678.8 890,690 C896.7,701.2 890,726.3 900,735 C910,743.7 933.3,741.5 950,742 C966.7,742.5 991.7,738.7 1000,738"/><path d="M540,665 C542.5,674.2 545,704.2 555,720 C565,735.8 585.8,748.3 600,760 C614.2,771.7 630,776.7 640,790 C650,803.3 650,827.5 660,840 C670,852.5 676.7,858.3 700,865 C723.3,871.7 783.3,877.5 800,880"/><path d="M480,665 C482.5,675.8 489.2,709.2 495,730 C500.8,750.8 515.8,777.5 515,790 C514.2,802.5 498.3,798.3 490,805 C481.7,811.7 466.7,817.5 465,830 C463.3,842.5 470.8,860 480,880 C489.2,900 507.5,926.7 520,950 C532.5,973.3 548.3,1003.3 555,1020 C561.7,1036.7 561.7,1040.8 560,1050 C558.3,1059.2 547.5,1070.8 545,1075"/><path d="M470,660 C463.3,663.3 440,670 430,680 C420,690 415,705.8 410,720 C405,734.2 411.7,756.7 400,765 C388.3,773.3 355.8,765.8 340,770 C324.2,774.2 313.3,776.7 305,790 C296.7,803.3 295.8,825 290,850 C284.2,875 280,922.5 270,940 C260,957.5 236.7,952.5 230,955"/><path d="M445,585 C434.2,585 397.5,582.5 380,585 C362.5,587.5 353.3,590.8 340,600 C326.7,609.2 313.3,636.7 300,640 C286.7,643.3 273.3,626.7 260,620 C246.7,613.3 235,600 220,600 C205,600 188.3,606.7 170,620 C151.7,633.3 128.3,663.3 110,680 C91.7,696.7 75.8,715 60,720 C44.2,725 22.5,711.7 15,710"/><path d="M455,545 C447.5,540.8 424.2,525.8 410,520 C395.8,514.2 379.2,508.3 370,510 C360.8,511.7 358.3,524.2 355,530 C351.7,535.8 359.2,545 350,545 C340.8,545 325,540.8 300,530 C275,519.2 233.3,495 200,480 C166.7,465 120,444.2 100,440 C80,435.8 83.3,446.7 80,455 C76.7,463.3 86.7,483.3 80,490 C73.3,496.7 46.7,494.2 40,495"/><path d="M465,520 C460.8,513.3 449.2,495 440,480 C430.8,465 421.7,444.2 410,430 C398.3,415.8 385,402.5 370,395 C355,387.5 334.2,387.5 320,385 C305.8,382.5 298.3,385.8 285,380 C271.7,374.2 254.2,358.3 240,350 C225.8,341.7 218.3,333.3 200,330 C181.7,326.7 152.5,328.3 130,330 C107.5,331.7 75.8,338.3 65,340"/></g></g>
<ellipse cx="864.2" cy="838.2" rx="14.8" ry="5.8" fill="#2a0014" opacity="0.75" filter="url(#blur2)"/><circle cx="863.2" cy="825.8" r="16.5" fill="url(#sph)" stroke="#0a5a0a" stroke-width="0.8"/>
<g fill="none" stroke="#8a9c8c" stroke-width="5.2" stroke-linecap="round" stroke-linejoin="round" opacity="0.85" filter="url(#blur1)"><g transform="translate(1267.0,776.8) scale(1,1)"><path d="M-12.2,-85.7 C-14.6,-83.3 -24.1,-74.4 -26.8,-71.1 C-29.5,-67.8 -28.8,-67.1 -28.3,-65.8 C-27.8,-64.5 -30.1,-63.5 -23.7,-63.5 C-17.3,-63.5 1,-65.3 9.9,-65.8 C18.8,-66.3 23.7,-66.7 29.8,-66.6 C35.9,-66.5 43.5,-64.3 46.7,-65.1 C49.9,-65.9 49.8,-68.7 49,-71.2 C48.2,-73.8 44.4,-77.5 42.1,-80.4 C39.8,-83.3 36.4,-87.4 35.2,-88.8"/><path d="M-59.7,-16.1 C-60.2,-20.2 -62.1,-33.2 -62.7,-40.5 C-63.3,-47.8 -63.8,-56 -63.5,-59.7 C-63.2,-63.4 -62.1,-63.1 -61.2,-62.7 C-60.3,-62.3 -60,-62.4 -58.1,-57.4 C-56.2,-52.4 -52.1,-39 -49.7,-32.9 C-47.3,-26.8 -45.2,-20.9 -43.6,-20.7 C-42,-20.4 -40.6,-27.3 -39.8,-31.4 C-39,-35.5 -39.6,-42.3 -39,-45.2 C-38.4,-48.1 -40,-47.2 -35.9,-49 C-31.8,-50.8 -22.1,-53.5 -14.5,-55.9 C-6.9,-58.3 5.8,-62.2 9.9,-63.5"/><path d="M-34.4,-42.1 C-33.4,-41.7 -32.6,-40.4 -28.3,-39.8 C-24,-39.2 -14.8,-39.1 -8.4,-38.3 C-2,-37.5 5.8,-36.6 9.9,-35.2 C14,-33.8 14.6,-32 16.1,-29.8 C17.6,-27.6 19.4,-24.8 19.1,-22.2 C18.8,-19.6 16,-16.3 14.5,-14.5 C13,-12.7 10.7,-12 9.9,-11.5"/><path d="M9.9,-64.3 C9.5,-62.6 7.4,-58.4 7.7,-54.2 C8,-50 9.3,-43.2 11.5,-38.9 C13.7,-34.6 17.9,-31.3 20.7,-28.2 C23.5,-25.1 27.3,-23 28.3,-20.5 C29.3,-18 28.1,-15 26.8,-13 C25.5,-11 22.5,-9.4 20.7,-8.4 C18.9,-7.4 16.9,-7.2 16.1,-6.9"/><path d="M-94.9,-15.3 C-93,-13.1 -87.4,-6 -83.4,-2.3 C-79.5,1.4 -74.5,6.4 -71.2,6.9 C-67.9,7.4 -66.3,3.7 -63.5,0.8 C-60.7,-2.1 -57.6,-7.9 -54.3,-10.7 C-51,-13.5 -47.4,-14.7 -43.6,-16.1 C-39.8,-17.5 -34.7,-19.1 -31.4,-19.1 C-28.1,-19.1 -26,-17.9 -23.7,-16.1 C-21.4,-14.3 -18.6,-9.7 -17.6,-8.4"/><path d="M-81.9,50.5 C-79.1,50.5 -69.8,50.9 -65,50.5 C-60.1,50.1 -55.3,50.6 -52.8,48.2 C-50.2,45.8 -50.2,41.9 -49.7,36 C-49.2,30.1 -50.2,18.6 -49.7,13 C-49.2,7.4 -48.5,5 -46.7,2.3 C-44.9,-0.4 -41.8,-2.2 -39,-3.1 C-36.2,-4 -32.9,-3.9 -29.8,-3.1 C-26.8,-2.3 -23.1,0.1 -20.7,1.5 C-18.3,2.9 -16.2,4.8 -15.3,5.4"/><path d="M-32.9,-40.5 C-31.9,-38 -28.8,-30.1 -26.8,-25.3 C-24.8,-20.5 -22.6,-15.1 -20.7,-11.5 C-18.8,-7.9 -16.2,-5.1 -15.3,-3.8"/><path d="M-11.5,13 C-13.5,12.8 -20.9,11 -23.7,11.5 C-26.5,12 -27.8,13.3 -28.3,16.1 C-28.8,18.9 -28.1,24.5 -26.8,28.3 C-25.5,32.1 -22.4,35.2 -20.7,39 C-19,42.8 -16.3,48 -16.8,51.3 C-17.3,54.6 -22,56.6 -23.7,58.9 C-25.4,61.2 -26.3,64.1 -26.8,65.1"/><path d="M6.9,13 C8.9,12.8 15,12.5 19.1,11.5 C23.2,10.5 28.8,6.1 31.4,6.9 C33.9,7.7 34.4,12.5 34.4,16.1 C34.4,19.7 30.4,25.5 31.4,28.3 C32.4,31.1 37.3,32.6 40.6,32.9 C43.9,33.1 49.5,30.3 51.3,29.8"/><path d="M-17.6,34.4 C-14.8,33.4 -6.9,30.3 -0.8,28.3 C5.3,26.3 14,23.5 19.1,22.2 C24.2,20.9 28,20.9 29.8,20.7"/><path d="M-14.5,37.5 C-10.9,38 -0.7,38.8 6.9,40.6 C14.6,42.4 26.3,45.4 31.4,48.2 C36.5,51 37,54.1 37.5,57.4 C38,60.7 34.9,66.3 34.4,68.1"/><path d="M9.9,37.5 C11.2,39.3 14.8,45.7 17.6,48.2 C20.4,50.8 23.5,52.5 26.8,52.8 C30.1,53 35.7,50.2 37.5,49.7"/><path d="M-14.5,37.5 C-11.3,38.6 -2.9,41.9 4.8,43.9 C12.5,45.9 25.9,47.3 31.8,49.3 C37.6,51.3 34.7,52.9 39.9,56 C45.1,59.1 59.1,66.2 62.9,68.2"/><path d="M23.7,74.9 C26.4,71.8 36.3,60.5 39.9,56 C43.5,51.5 43.7,51.9 45.3,47.9 C46.9,43.9 50.8,34.9 49.4,31.7 C48,28.6 40.1,30.4 37.2,29 C34.3,27.6 32.7,24.5 31.8,23.6"/><path d="M4.8,-35.8 C7.5,-34.4 16.5,-29.7 21,-27.7 C25.5,-25.7 27.1,-24.1 31.8,-23.6 C36.5,-23.2 45.4,-23.6 49.4,-25 C53.4,-26.4 55.6,-29.4 56.1,-31.7 C56.6,-34 54.4,-37.6 52.1,-38.5 C49.9,-39.4 45.5,-38.7 42.6,-37.1 C39.7,-35.5 35.9,-30.4 34.5,-29"/><path d="M15,8 L25,12 L36.2,15.7 L52.6,24.5 L38.7,-3.8 L80.3,22.6 L53.9,-17.1"/></g><g transform="translate(1267.0,905.5999999999999) scale(1,1)"><path d="M-12.2,-85.7 C-14.6,-83.3 -24.1,-74.4 -26.8,-71.1 C-29.5,-67.8 -28.8,-67.1 -28.3,-65.8 C-27.8,-64.5 -30.1,-63.5 -23.7,-63.5 C-17.3,-63.5 1,-65.3 9.9,-65.8 C18.8,-66.3 23.7,-66.7 29.8,-66.6 C35.9,-66.5 43.5,-64.3 46.7,-65.1 C49.9,-65.9 49.8,-68.7 49,-71.2 C48.2,-73.8 44.4,-77.5 42.1,-80.4 C39.8,-83.3 36.4,-87.4 35.2,-88.8"/><path d="M-59.7,-16.1 C-60.2,-20.2 -62.1,-33.2 -62.7,-40.5 C-63.3,-47.8 -63.8,-56 -63.5,-59.7 C-63.2,-63.4 -62.1,-63.1 -61.2,-62.7 C-60.3,-62.3 -60,-62.4 -58.1,-57.4 C-56.2,-52.4 -52.1,-39 -49.7,-32.9 C-47.3,-26.8 -45.2,-20.9 -43.6,-20.7 C-42,-20.4 -40.6,-27.3 -39.8,-31.4 C-39,-35.5 -39.6,-42.3 -39,-45.2 C-38.4,-48.1 -40,-47.2 -35.9,-49 C-31.8,-50.8 -22.1,-53.5 -14.5,-55.9 C-6.9,-58.3 5.8,-62.2 9.9,-63.5"/><path d="M-34.4,-42.1 C-33.4,-41.7 -32.6,-40.4 -28.3,-39.8 C-24,-39.2 -14.8,-39.1 -8.4,-38.3 C-2,-37.5 5.8,-36.6 9.9,-35.2 C14,-33.8 14.6,-32 16.1,-29.8 C17.6,-27.6 19.4,-24.8 19.1,-22.2 C18.8,-19.6 16,-16.3 14.5,-14.5 C13,-12.7 10.7,-12 9.9,-11.5"/><path d="M9.9,-64.3 C9.5,-62.6 7.4,-58.4 7.7,-54.2 C8,-50 9.3,-43.2 11.5,-38.9 C13.7,-34.6 17.9,-31.3 20.7,-28.2 C23.5,-25.1 27.3,-23 28.3,-20.5 C29.3,-18 28.1,-15 26.8,-13 C25.5,-11 22.5,-9.4 20.7,-8.4 C18.9,-7.4 16.9,-7.2 16.1,-6.9"/><path d="M-94.9,-15.3 C-93,-13.1 -87.4,-6 -83.4,-2.3 C-79.5,1.4 -74.5,6.4 -71.2,6.9 C-67.9,7.4 -66.3,3.7 -63.5,0.8 C-60.7,-2.1 -57.6,-7.9 -54.3,-10.7 C-51,-13.5 -47.4,-14.7 -43.6,-16.1 C-39.8,-17.5 -34.7,-19.1 -31.4,-19.1 C-28.1,-19.1 -26,-17.9 -23.7,-16.1 C-21.4,-14.3 -18.6,-9.7 -17.6,-8.4"/><path d="M-81.9,50.5 C-79.1,50.5 -69.8,50.9 -65,50.5 C-60.1,50.1 -55.3,50.6 -52.8,48.2 C-50.2,45.8 -50.2,41.9 -49.7,36 C-49.2,30.1 -50.2,18.6 -49.7,13 C-49.2,7.4 -48.5,5 -46.7,2.3 C-44.9,-0.4 -41.8,-2.2 -39,-3.1 C-36.2,-4 -32.9,-3.9 -29.8,-3.1 C-26.8,-2.3 -23.1,0.1 -20.7,1.5 C-18.3,2.9 -16.2,4.8 -15.3,5.4"/><path d="M-32.9,-40.5 C-31.9,-38 -28.8,-30.1 -26.8,-25.3 C-24.8,-20.5 -22.6,-15.1 -20.7,-11.5 C-18.8,-7.9 -16.2,-5.1 -15.3,-3.8"/><path d="M-11.5,13 C-13.5,12.8 -20.9,11 -23.7,11.5 C-26.5,12 -27.8,13.3 -28.3,16.1 C-28.8,18.9 -28.1,24.5 -26.8,28.3 C-25.5,32.1 -22.4,35.2 -20.7,39 C-19,42.8 -16.3,48 -16.8,51.3 C-17.3,54.6 -22,56.6 -23.7,58.9 C-25.4,61.2 -26.3,64.1 -26.8,65.1"/><path d="M6.9,13 C8.9,12.8 15,12.5 19.1,11.5 C23.2,10.5 28.8,6.1 31.4,6.9 C33.9,7.7 34.4,12.5 34.4,16.1 C34.4,19.7 30.4,25.5 31.4,28.3 C32.4,31.1 37.3,32.6 40.6,32.9 C43.9,33.1 49.5,30.3 51.3,29.8"/><path d="M-17.6,34.4 C-14.8,33.4 -6.9,30.3 -0.8,28.3 C5.3,26.3 14,23.5 19.1,22.2 C24.2,20.9 28,20.9 29.8,20.7"/><path d="M-14.5,37.5 C-10.9,38 -0.7,38.8 6.9,40.6 C14.6,42.4 26.3,45.4 31.4,48.2 C36.5,51 37,54.1 37.5,57.4 C38,60.7 34.9,66.3 34.4,68.1"/><path d="M9.9,37.5 C11.2,39.3 14.8,45.7 17.6,48.2 C20.4,50.8 23.5,52.5 26.8,52.8 C30.1,53 35.7,50.2 37.5,49.7"/><path d="M-14.5,37.5 C-11.3,38.6 -2.9,41.9 4.8,43.9 C12.5,45.9 25.9,47.3 31.8,49.3 C37.6,51.3 34.7,52.9 39.9,56 C45.1,59.1 59.1,66.2 62.9,68.2"/><path d="M23.7,74.9 C26.4,71.8 36.3,60.5 39.9,56 C43.5,51.5 43.7,51.9 45.3,47.9 C46.9,43.9 50.8,34.9 49.4,31.7 C48,28.6 40.1,30.4 37.2,29 C34.3,27.6 32.7,24.5 31.8,23.6"/><path d="M4.8,-35.8 C7.5,-34.4 16.5,-29.7 21,-27.7 C25.5,-25.7 27.1,-24.1 31.8,-23.6 C36.5,-23.2 45.4,-23.6 49.4,-25 C53.4,-26.4 55.6,-29.4 56.1,-31.7 C56.6,-34 54.4,-37.6 52.1,-38.5 C49.9,-39.4 45.5,-38.7 42.6,-37.1 C39.7,-35.5 35.9,-30.4 34.5,-29"/><path d="M15,8 L25,12 L36.2,15.7 L52.6,24.5 L38.7,-3.8 L80.3,22.6 L53.9,-17.1"/></g><g transform="translate(1372.6,830.6999999999999) scale(1,1)"><path d="M-12.2,-85.7 C-14.6,-83.3 -24.1,-74.4 -26.8,-71.1 C-29.5,-67.8 -28.8,-67.1 -28.3,-65.8 C-27.8,-64.5 -30.1,-63.5 -23.7,-63.5 C-17.3,-63.5 1,-65.3 9.9,-65.8 C18.8,-66.3 23.7,-66.7 29.8,-66.6 C35.9,-66.5 43.5,-64.3 46.7,-65.1 C49.9,-65.9 49.8,-68.7 49,-71.2 C48.2,-73.8 44.4,-77.5 42.1,-80.4 C39.8,-83.3 36.4,-87.4 35.2,-88.8"/><path d="M-59.7,-16.1 C-60.2,-20.2 -62.1,-33.2 -62.7,-40.5 C-63.3,-47.8 -63.8,-56 -63.5,-59.7 C-63.2,-63.4 -62.1,-63.1 -61.2,-62.7 C-60.3,-62.3 -60,-62.4 -58.1,-57.4 C-56.2,-52.4 -52.1,-39 -49.7,-32.9 C-47.3,-26.8 -45.2,-20.9 -43.6,-20.7 C-42,-20.4 -40.6,-27.3 -39.8,-31.4 C-39,-35.5 -39.6,-42.3 -39,-45.2 C-38.4,-48.1 -40,-47.2 -35.9,-49 C-31.8,-50.8 -22.1,-53.5 -14.5,-55.9 C-6.9,-58.3 5.8,-62.2 9.9,-63.5"/><path d="M-34.4,-42.1 C-33.4,-41.7 -32.6,-40.4 -28.3,-39.8 C-24,-39.2 -14.8,-39.1 -8.4,-38.3 C-2,-37.5 5.8,-36.6 9.9,-35.2 C14,-33.8 14.6,-32 16.1,-29.8 C17.6,-27.6 19.4,-24.8 19.1,-22.2 C18.8,-19.6 16,-16.3 14.5,-14.5 C13,-12.7 10.7,-12 9.9,-11.5"/><path d="M9.9,-64.3 C9.5,-62.6 7.4,-58.4 7.7,-54.2 C8,-50 9.3,-43.2 11.5,-38.9 C13.7,-34.6 17.9,-31.3 20.7,-28.2 C23.5,-25.1 27.3,-23 28.3,-20.5 C29.3,-18 28.1,-15 26.8,-13 C25.5,-11 22.5,-9.4 20.7,-8.4 C18.9,-7.4 16.9,-7.2 16.1,-6.9"/><path d="M-94.9,-15.3 C-93,-13.1 -87.4,-6 -83.4,-2.3 C-79.5,1.4 -74.5,6.4 -71.2,6.9 C-67.9,7.4 -66.3,3.7 -63.5,0.8 C-60.7,-2.1 -57.6,-7.9 -54.3,-10.7 C-51,-13.5 -47.4,-14.7 -43.6,-16.1 C-39.8,-17.5 -34.7,-19.1 -31.4,-19.1 C-28.1,-19.1 -26,-17.9 -23.7,-16.1 C-21.4,-14.3 -18.6,-9.7 -17.6,-8.4"/><path d="M-81.9,50.5 C-79.1,50.5 -69.8,50.9 -65,50.5 C-60.1,50.1 -55.3,50.6 -52.8,48.2 C-50.2,45.8 -50.2,41.9 -49.7,36 C-49.2,30.1 -50.2,18.6 -49.7,13 C-49.2,7.4 -48.5,5 -46.7,2.3 C-44.9,-0.4 -41.8,-2.2 -39,-3.1 C-36.2,-4 -32.9,-3.9 -29.8,-3.1 C-26.8,-2.3 -23.1,0.1 -20.7,1.5 C-18.3,2.9 -16.2,4.8 -15.3,5.4"/><path d="M-32.9,-40.5 C-31.9,-38 -28.8,-30.1 -26.8,-25.3 C-24.8,-20.5 -22.6,-15.1 -20.7,-11.5 C-18.8,-7.9 -16.2,-5.1 -15.3,-3.8"/><path d="M-11.5,13 C-13.5,12.8 -20.9,11 -23.7,11.5 C-26.5,12 -27.8,13.3 -28.3,16.1 C-28.8,18.9 -28.1,24.5 -26.8,28.3 C-25.5,32.1 -22.4,35.2 -20.7,39 C-19,42.8 -16.3,48 -16.8,51.3 C-17.3,54.6 -22,56.6 -23.7,58.9 C-25.4,61.2 -26.3,64.1 -26.8,65.1"/><path d="M6.9,13 C8.9,12.8 15,12.5 19.1,11.5 C23.2,10.5 28.8,6.1 31.4,6.9 C33.9,7.7 34.4,12.5 34.4,16.1 C34.4,19.7 30.4,25.5 31.4,28.3 C32.4,31.1 37.3,32.6 40.6,32.9 C43.9,33.1 49.5,30.3 51.3,29.8"/><path d="M-17.6,34.4 C-14.8,33.4 -6.9,30.3 -0.8,28.3 C5.3,26.3 14,23.5 19.1,22.2 C24.2,20.9 28,20.9 29.8,20.7"/><path d="M-14.5,37.5 C-10.9,38 -0.7,38.8 6.9,40.6 C14.6,42.4 26.3,45.4 31.4,48.2 C36.5,51 37,54.1 37.5,57.4 C38,60.7 34.9,66.3 34.4,68.1"/><path d="M9.9,37.5 C11.2,39.3 14.8,45.7 17.6,48.2 C20.4,50.8 23.5,52.5 26.8,52.8 C30.1,53 35.7,50.2 37.5,49.7"/><path d="M-14.5,37.5 C-11.3,38.6 -2.9,41.9 4.8,43.9 C12.5,45.9 25.9,47.3 31.8,49.3 C37.6,51.3 34.7,52.9 39.9,56 C45.1,59.1 59.1,66.2 62.9,68.2"/><path d="M23.7,74.9 C26.4,71.8 36.3,60.5 39.9,56 C43.5,51.5 43.7,51.9 45.3,47.9 C46.9,43.9 50.8,34.9 49.4,31.7 C48,28.6 40.1,30.4 37.2,29 C34.3,27.6 32.7,24.5 31.8,23.6"/><path d="M4.8,-35.8 C7.5,-34.4 16.5,-29.7 21,-27.7 C25.5,-25.7 27.1,-24.1 31.8,-23.6 C36.5,-23.2 45.4,-23.6 49.4,-25 C53.4,-26.4 55.6,-29.4 56.1,-31.7 C56.6,-34 54.4,-37.6 52.1,-38.5 C49.9,-39.4 45.5,-38.7 42.6,-37.1 C39.7,-35.5 35.9,-30.4 34.5,-29"/><path d="M15,8 L25,12 L36.2,15.7 L52.6,24.5 L38.7,-3.8 L80.3,22.6 L53.9,-17.1"/></g><g transform="translate(1.8,2.8)"><path d="M1321.3,840 C1321.1,842.7 1319.3,851 1320,856.2 C1320.7,861.4 1323.2,867.1 1325.4,871.1 C1327.7,875.1 1330.6,877.6 1333.5,880.5 C1336.4,883.4 1340,888.6 1342.9,888.6 C1345.8,888.6 1350.1,884.1 1351,880.5 C1351.9,876.9 1349.5,872.4 1348.3,867 C1347.1,861.6 1344,852.4 1343.6,848.1 C1343.1,843.8 1345.3,842.5 1345.6,841.4"/><path d="M1404,739.2 C1405.2,740.5 1408.7,744.2 1410.9,746.8 C1413.1,749.3 1415.7,752.2 1417,754.5 C1418.3,756.8 1419.3,759.5 1418.5,760.6 C1417.7,761.8 1418,761.4 1412.4,761.4 C1406.8,761.4 1390.2,760.2 1384.9,760.6 C1379.6,761 1380.8,761.2 1380.3,763.7 C1379.8,766.2 1381,771.8 1381.8,775.9 C1382.6,780 1382.9,784.5 1384.9,788.1 C1387,791.7 1391.8,794.2 1394.1,797.3 C1396.4,800.4 1398.3,803.7 1398.6,806.5 C1398.8,809.3 1397.1,812.2 1395.6,814.2 C1394.1,816.2 1390.5,818 1389.5,818.8"/><path d="M1455.3,788.1 C1454.5,790.1 1452,796.3 1450.7,800.4 C1449.4,804.5 1448.9,810.6 1447.6,812.6 C1446.3,814.6 1445.5,814.6 1443,812.6 C1440.5,810.6 1435.6,804 1432.3,800.4 C1429,796.8 1426.2,793 1423.1,791.2 C1420,789.4 1416.7,788.7 1413.9,789.7 C1411.1,790.7 1408.1,794 1406.3,797.3 C1404.5,800.6 1404.7,805.5 1403.2,809.6 C1401.7,813.7 1399.6,818.8 1397.1,821.8 C1394.5,824.8 1389.4,826.9 1387.9,827.9"/><path d="M1423.1,811.1 C1425.1,813.4 1432.1,820.6 1435.4,824.9 C1438.7,829.2 1440.5,833 1443,837.1 C1445.5,841.2 1450.7,847.4 1450.7,849.4 C1450.7,851.4 1446.8,851.4 1443,849.4 C1439.2,847.4 1433.3,841.5 1427.7,837.1 C1422.1,832.8 1413,824.8 1409.4,823.3 C1405.8,821.8 1405.8,825.1 1406.3,827.9 C1406.8,830.7 1410.1,836.6 1412.4,840.2 C1414.7,843.8 1418.8,847.9 1420.1,849.4"/><path d="M1387.9,835.6 C1390.5,835.6 1400.1,833.8 1403.2,835.6 C1406.3,837.4 1406.8,843 1406.3,846.3 C1405.8,849.6 1400.7,853.5 1400.2,855.5 C1399.7,857.5 1399.9,858 1403.2,858.5 C1406.5,859 1417,857 1420.1,858.5 C1423.2,860 1421.9,864.1 1421.6,867.7 C1421.3,871.3 1419.8,876.8 1418.5,879.9 C1417.2,883 1415.4,884.6 1413.9,886.1 C1412.4,887.6 1410.2,888.6 1409.4,889.1"/><path d="M1381.8,846.3 C1378.7,846.8 1368.5,847.1 1363.4,849.4 C1358.3,851.7 1352.7,857.5 1351.2,860.1 C1349.7,862.7 1350.5,864.7 1354.3,864.7 C1358.1,864.7 1367.1,862.2 1374.2,860.1 C1381.3,858 1391.8,854.2 1397.1,852.4 C1402.4,850.6 1404.8,849.9 1406.3,849.4"/><path d="M1351.2,863.1 C1355.3,864.4 1367.5,868.8 1375.7,870.8 C1383.9,872.8 1394.9,873.9 1400.2,875.4 C1405.5,876.9 1405.8,878.5 1407.8,880 C1409.8,881.5 1408.3,882 1412.4,884.5 C1416.5,887 1429,893.5 1432.3,895.3"/><path d="M1409.1,884.6 C1406.6,887.5 1396.7,899.2 1394.2,902.1"/><path d="M1297.3,760.5 C1298.7,757.8 1302.7,748.3 1305.4,744.3 C1308.1,740.2 1310.8,737.3 1313.5,736.2 C1316.2,735.1 1318.4,735.9 1321.6,737.8 C1324.8,739.7 1329.1,744 1332.9,747.5 C1336.7,751 1341.3,756.2 1344.3,758.9 C1347.3,761.6 1345.8,763.3 1350.7,763.8 C1355.6,764.3 1367.5,762.9 1373.4,762.1 C1379.4,761.3 1382,759.2 1386.4,758.9 C1390.8,758.6 1397.7,760.2 1400,760.5"/><path d="M1350.7,734.6 C1350.2,737.6 1348,749.4 1347.5,752.4"/><path d="M1360.5,742.7 C1358.3,744.9 1349.7,753.5 1347.5,755.7"/><path d="M1260,736.2 C1262.7,736.7 1271.9,737.5 1276.2,739.4 C1280.5,741.3 1283.2,744.5 1285.9,747.5 C1288.6,750.5 1291.9,753.8 1292.4,757.3 C1293,760.8 1290.8,765.9 1289.2,768.6 C1287.6,771.3 1283.8,772.7 1282.7,773.5"/><path d="M1321.6,833.4 C1322.7,832.3 1325.4,828.4 1328.1,827 C1330.8,825.6 1334.6,824.2 1337.8,825.3 C1341,826.4 1345.3,829.9 1347.5,833.4 C1349.7,836.9 1349.4,842.9 1350.7,846.4 C1352,849.9 1354.8,853.1 1355.6,854.5"/><path d="M1279.4,836.7 C1278.6,840.2 1275.1,852.9 1274.6,857.7 C1274.1,862.6 1272.7,863.4 1276.2,865.8 C1279.7,868.2 1290.3,871.8 1295.7,872.3 C1301.1,872.8 1304.8,870.7 1308.6,869.1 C1312.4,867.5 1316.7,863.7 1318.3,862.6"/></g></g>
<g fill="none" stroke="#e8008e" stroke-width="4.8" stroke-linecap="round" stroke-linejoin="round"><path d="M1321.3,840 C1321.1,842.7 1319.3,851 1320,856.2 C1320.7,861.4 1323.2,867.1 1325.4,871.1 C1327.7,875.1 1330.6,877.6 1333.5,880.5 C1336.4,883.4 1340,888.6 1342.9,888.6 C1345.8,888.6 1350.1,884.1 1351,880.5 C1351.9,876.9 1349.5,872.4 1348.3,867 C1347.1,861.6 1344,852.4 1343.6,848.1 C1343.1,843.8 1345.3,842.5 1345.6,841.4"/><path d="M1404,739.2 C1405.2,740.5 1408.7,744.2 1410.9,746.8 C1413.1,749.3 1415.7,752.2 1417,754.5 C1418.3,756.8 1419.3,759.5 1418.5,760.6 C1417.7,761.8 1418,761.4 1412.4,761.4 C1406.8,761.4 1390.2,760.2 1384.9,760.6 C1379.6,761 1380.8,761.2 1380.3,763.7 C1379.8,766.2 1381,771.8 1381.8,775.9 C1382.6,780 1382.9,784.5 1384.9,788.1 C1387,791.7 1391.8,794.2 1394.1,797.3 C1396.4,800.4 1398.3,803.7 1398.6,806.5 C1398.8,809.3 1397.1,812.2 1395.6,814.2 C1394.1,816.2 1390.5,818 1389.5,818.8"/><path d="M1455.3,788.1 C1454.5,790.1 1452,796.3 1450.7,800.4 C1449.4,804.5 1448.9,810.6 1447.6,812.6 C1446.3,814.6 1445.5,814.6 1443,812.6 C1440.5,810.6 1435.6,804 1432.3,800.4 C1429,796.8 1426.2,793 1423.1,791.2 C1420,789.4 1416.7,788.7 1413.9,789.7 C1411.1,790.7 1408.1,794 1406.3,797.3 C1404.5,800.6 1404.7,805.5 1403.2,809.6 C1401.7,813.7 1399.6,818.8 1397.1,821.8 C1394.5,824.8 1389.4,826.9 1387.9,827.9"/><path d="M1423.1,811.1 C1425.1,813.4 1432.1,820.6 1435.4,824.9 C1438.7,829.2 1440.5,833 1443,837.1 C1445.5,841.2 1450.7,847.4 1450.7,849.4 C1450.7,851.4 1446.8,851.4 1443,849.4 C1439.2,847.4 1433.3,841.5 1427.7,837.1 C1422.1,832.8 1413,824.8 1409.4,823.3 C1405.8,821.8 1405.8,825.1 1406.3,827.9 C1406.8,830.7 1410.1,836.6 1412.4,840.2 C1414.7,843.8 1418.8,847.9 1420.1,849.4"/><path d="M1387.9,835.6 C1390.5,835.6 1400.1,833.8 1403.2,835.6 C1406.3,837.4 1406.8,843 1406.3,846.3 C1405.8,849.6 1400.7,853.5 1400.2,855.5 C1399.7,857.5 1399.9,858 1403.2,858.5 C1406.5,859 1417,857 1420.1,858.5 C1423.2,860 1421.9,864.1 1421.6,867.7 C1421.3,871.3 1419.8,876.8 1418.5,879.9 C1417.2,883 1415.4,884.6 1413.9,886.1 C1412.4,887.6 1410.2,888.6 1409.4,889.1"/><path d="M1381.8,846.3 C1378.7,846.8 1368.5,847.1 1363.4,849.4 C1358.3,851.7 1352.7,857.5 1351.2,860.1 C1349.7,862.7 1350.5,864.7 1354.3,864.7 C1358.1,864.7 1367.1,862.2 1374.2,860.1 C1381.3,858 1391.8,854.2 1397.1,852.4 C1402.4,850.6 1404.8,849.9 1406.3,849.4"/><path d="M1351.2,863.1 C1355.3,864.4 1367.5,868.8 1375.7,870.8 C1383.9,872.8 1394.9,873.9 1400.2,875.4 C1405.5,876.9 1405.8,878.5 1407.8,880 C1409.8,881.5 1408.3,882 1412.4,884.5 C1416.5,887 1429,893.5 1432.3,895.3"/><path d="M1409.1,884.6 C1406.6,887.5 1396.7,899.2 1394.2,902.1"/><path d="M1297.3,760.5 C1298.7,757.8 1302.7,748.3 1305.4,744.3 C1308.1,740.2 1310.8,737.3 1313.5,736.2 C1316.2,735.1 1318.4,735.9 1321.6,737.8 C1324.8,739.7 1329.1,744 1332.9,747.5 C1336.7,751 1341.3,756.2 1344.3,758.9 C1347.3,761.6 1345.8,763.3 1350.7,763.8 C1355.6,764.3 1367.5,762.9 1373.4,762.1 C1379.4,761.3 1382,759.2 1386.4,758.9 C1390.8,758.6 1397.7,760.2 1400,760.5"/><path d="M1350.7,734.6 C1350.2,737.6 1348,749.4 1347.5,752.4"/><path d="M1360.5,742.7 C1358.3,744.9 1349.7,753.5 1347.5,755.7"/><path d="M1260,736.2 C1262.7,736.7 1271.9,737.5 1276.2,739.4 C1280.5,741.3 1283.2,744.5 1285.9,747.5 C1288.6,750.5 1291.9,753.8 1292.4,757.3 C1293,760.8 1290.8,765.9 1289.2,768.6 C1287.6,771.3 1283.8,772.7 1282.7,773.5"/><path d="M1321.6,833.4 C1322.7,832.3 1325.4,828.4 1328.1,827 C1330.8,825.6 1334.6,824.2 1337.8,825.3 C1341,826.4 1345.3,829.9 1347.5,833.4 C1349.7,836.9 1349.4,842.9 1350.7,846.4 C1352,849.9 1354.8,853.1 1355.6,854.5"/><path d="M1279.4,836.7 C1278.6,840.2 1275.1,852.9 1274.6,857.7 C1274.1,862.6 1272.7,863.4 1276.2,865.8 C1279.7,868.2 1290.3,871.8 1295.7,872.3 C1301.1,872.8 1304.8,870.7 1308.6,869.1 C1312.4,867.5 1316.7,863.7 1318.3,862.6"/><g transform="translate(1265.2,774.0) scale(1,1)"><path d="M-12.2,-85.7 C-14.6,-83.3 -24.1,-74.4 -26.8,-71.1 C-29.5,-67.8 -28.8,-67.1 -28.3,-65.8 C-27.8,-64.5 -30.1,-63.5 -23.7,-63.5 C-17.3,-63.5 1,-65.3 9.9,-65.8 C18.8,-66.3 23.7,-66.7 29.8,-66.6 C35.9,-66.5 43.5,-64.3 46.7,-65.1 C49.9,-65.9 49.8,-68.7 49,-71.2 C48.2,-73.8 44.4,-77.5 42.1,-80.4 C39.8,-83.3 36.4,-87.4 35.2,-88.8"/><path d="M-59.7,-16.1 C-60.2,-20.2 -62.1,-33.2 -62.7,-40.5 C-63.3,-47.8 -63.8,-56 -63.5,-59.7 C-63.2,-63.4 -62.1,-63.1 -61.2,-62.7 C-60.3,-62.3 -60,-62.4 -58.1,-57.4 C-56.2,-52.4 -52.1,-39 -49.7,-32.9 C-47.3,-26.8 -45.2,-20.9 -43.6,-20.7 C-42,-20.4 -40.6,-27.3 -39.8,-31.4 C-39,-35.5 -39.6,-42.3 -39,-45.2 C-38.4,-48.1 -40,-47.2 -35.9,-49 C-31.8,-50.8 -22.1,-53.5 -14.5,-55.9 C-6.9,-58.3 5.8,-62.2 9.9,-63.5"/><path d="M-34.4,-42.1 C-33.4,-41.7 -32.6,-40.4 -28.3,-39.8 C-24,-39.2 -14.8,-39.1 -8.4,-38.3 C-2,-37.5 5.8,-36.6 9.9,-35.2 C14,-33.8 14.6,-32 16.1,-29.8 C17.6,-27.6 19.4,-24.8 19.1,-22.2 C18.8,-19.6 16,-16.3 14.5,-14.5 C13,-12.7 10.7,-12 9.9,-11.5"/><path d="M9.9,-64.3 C9.5,-62.6 7.4,-58.4 7.7,-54.2 C8,-50 9.3,-43.2 11.5,-38.9 C13.7,-34.6 17.9,-31.3 20.7,-28.2 C23.5,-25.1 27.3,-23 28.3,-20.5 C29.3,-18 28.1,-15 26.8,-13 C25.5,-11 22.5,-9.4 20.7,-8.4 C18.9,-7.4 16.9,-7.2 16.1,-6.9"/><path d="M-94.9,-15.3 C-93,-13.1 -87.4,-6 -83.4,-2.3 C-79.5,1.4 -74.5,6.4 -71.2,6.9 C-67.9,7.4 -66.3,3.7 -63.5,0.8 C-60.7,-2.1 -57.6,-7.9 -54.3,-10.7 C-51,-13.5 -47.4,-14.7 -43.6,-16.1 C-39.8,-17.5 -34.7,-19.1 -31.4,-19.1 C-28.1,-19.1 -26,-17.9 -23.7,-16.1 C-21.4,-14.3 -18.6,-9.7 -17.6,-8.4"/><path d="M-81.9,50.5 C-79.1,50.5 -69.8,50.9 -65,50.5 C-60.1,50.1 -55.3,50.6 -52.8,48.2 C-50.2,45.8 -50.2,41.9 -49.7,36 C-49.2,30.1 -50.2,18.6 -49.7,13 C-49.2,7.4 -48.5,5 -46.7,2.3 C-44.9,-0.4 -41.8,-2.2 -39,-3.1 C-36.2,-4 -32.9,-3.9 -29.8,-3.1 C-26.8,-2.3 -23.1,0.1 -20.7,1.5 C-18.3,2.9 -16.2,4.8 -15.3,5.4"/><path d="M-32.9,-40.5 C-31.9,-38 -28.8,-30.1 -26.8,-25.3 C-24.8,-20.5 -22.6,-15.1 -20.7,-11.5 C-18.8,-7.9 -16.2,-5.1 -15.3,-3.8"/><path d="M-11.5,13 C-13.5,12.8 -20.9,11 -23.7,11.5 C-26.5,12 -27.8,13.3 -28.3,16.1 C-28.8,18.9 -28.1,24.5 -26.8,28.3 C-25.5,32.1 -22.4,35.2 -20.7,39 C-19,42.8 -16.3,48 -16.8,51.3 C-17.3,54.6 -22,56.6 -23.7,58.9 C-25.4,61.2 -26.3,64.1 -26.8,65.1"/><path d="M6.9,13 C8.9,12.8 15,12.5 19.1,11.5 C23.2,10.5 28.8,6.1 31.4,6.9 C33.9,7.7 34.4,12.5 34.4,16.1 C34.4,19.7 30.4,25.5 31.4,28.3 C32.4,31.1 37.3,32.6 40.6,32.9 C43.9,33.1 49.5,30.3 51.3,29.8"/><path d="M-17.6,34.4 C-14.8,33.4 -6.9,30.3 -0.8,28.3 C5.3,26.3 14,23.5 19.1,22.2 C24.2,20.9 28,20.9 29.8,20.7"/><path d="M-14.5,37.5 C-10.9,38 -0.7,38.8 6.9,40.6 C14.6,42.4 26.3,45.4 31.4,48.2 C36.5,51 37,54.1 37.5,57.4 C38,60.7 34.9,66.3 34.4,68.1"/><path d="M9.9,37.5 C11.2,39.3 14.8,45.7 17.6,48.2 C20.4,50.8 23.5,52.5 26.8,52.8 C30.1,53 35.7,50.2 37.5,49.7"/><path d="M-14.5,37.5 C-11.3,38.6 -2.9,41.9 4.8,43.9 C12.5,45.9 25.9,47.3 31.8,49.3 C37.6,51.3 34.7,52.9 39.9,56 C45.1,59.1 59.1,66.2 62.9,68.2"/><path d="M23.7,74.9 C26.4,71.8 36.3,60.5 39.9,56 C43.5,51.5 43.7,51.9 45.3,47.9 C46.9,43.9 50.8,34.9 49.4,31.7 C48,28.6 40.1,30.4 37.2,29 C34.3,27.6 32.7,24.5 31.8,23.6"/><path d="M4.8,-35.8 C7.5,-34.4 16.5,-29.7 21,-27.7 C25.5,-25.7 27.1,-24.1 31.8,-23.6 C36.5,-23.2 45.4,-23.6 49.4,-25 C53.4,-26.4 55.6,-29.4 56.1,-31.7 C56.6,-34 54.4,-37.6 52.1,-38.5 C49.9,-39.4 45.5,-38.7 42.6,-37.1 C39.7,-35.5 35.9,-30.4 34.5,-29"/><path d="M15,8 L25,12 L36.2,15.7 L52.6,24.5 L38.7,-3.8 L80.3,22.6 L53.9,-17.1"/></g><g transform="translate(1265.2,902.8) scale(1,1)"><path d="M-12.2,-85.7 C-14.6,-83.3 -24.1,-74.4 -26.8,-71.1 C-29.5,-67.8 -28.8,-67.1 -28.3,-65.8 C-27.8,-64.5 -30.1,-63.5 -23.7,-63.5 C-17.3,-63.5 1,-65.3 9.9,-65.8 C18.8,-66.3 23.7,-66.7 29.8,-66.6 C35.9,-66.5 43.5,-64.3 46.7,-65.1 C49.9,-65.9 49.8,-68.7 49,-71.2 C48.2,-73.8 44.4,-77.5 42.1,-80.4 C39.8,-83.3 36.4,-87.4 35.2,-88.8"/><path d="M-59.7,-16.1 C-60.2,-20.2 -62.1,-33.2 -62.7,-40.5 C-63.3,-47.8 -63.8,-56 -63.5,-59.7 C-63.2,-63.4 -62.1,-63.1 -61.2,-62.7 C-60.3,-62.3 -60,-62.4 -58.1,-57.4 C-56.2,-52.4 -52.1,-39 -49.7,-32.9 C-47.3,-26.8 -45.2,-20.9 -43.6,-20.7 C-42,-20.4 -40.6,-27.3 -39.8,-31.4 C-39,-35.5 -39.6,-42.3 -39,-45.2 C-38.4,-48.1 -40,-47.2 -35.9,-49 C-31.8,-50.8 -22.1,-53.5 -14.5,-55.9 C-6.9,-58.3 5.8,-62.2 9.9,-63.5"/><path d="M-34.4,-42.1 C-33.4,-41.7 -32.6,-40.4 -28.3,-39.8 C-24,-39.2 -14.8,-39.1 -8.4,-38.3 C-2,-37.5 5.8,-36.6 9.9,-35.2 C14,-33.8 14.6,-32 16.1,-29.8 C17.6,-27.6 19.4,-24.8 19.1,-22.2 C18.8,-19.6 16,-16.3 14.5,-14.5 C13,-12.7 10.7,-12 9.9,-11.5"/><path d="M9.9,-64.3 C9.5,-62.6 7.4,-58.4 7.7,-54.2 C8,-50 9.3,-43.2 11.5,-38.9 C13.7,-34.6 17.9,-31.3 20.7,-28.2 C23.5,-25.1 27.3,-23 28.3,-20.5 C29.3,-18 28.1,-15 26.8,-13 C25.5,-11 22.5,-9.4 20.7,-8.4 C18.9,-7.4 16.9,-7.2 16.1,-6.9"/><path d="M-94.9,-15.3 C-93,-13.1 -87.4,-6 -83.4,-2.3 C-79.5,1.4 -74.5,6.4 -71.2,6.9 C-67.9,7.4 -66.3,3.7 -63.5,0.8 C-60.7,-2.1 -57.6,-7.9 -54.3,-10.7 C-51,-13.5 -47.4,-14.7 -43.6,-16.1 C-39.8,-17.5 -34.7,-19.1 -31.4,-19.1 C-28.1,-19.1 -26,-17.9 -23.7,-16.1 C-21.4,-14.3 -18.6,-9.7 -17.6,-8.4"/><path d="M-81.9,50.5 C-79.1,50.5 -69.8,50.9 -65,50.5 C-60.1,50.1 -55.3,50.6 -52.8,48.2 C-50.2,45.8 -50.2,41.9 -49.7,36 C-49.2,30.1 -50.2,18.6 -49.7,13 C-49.2,7.4 -48.5,5 -46.7,2.3 C-44.9,-0.4 -41.8,-2.2 -39,-3.1 C-36.2,-4 -32.9,-3.9 -29.8,-3.1 C-26.8,-2.3 -23.1,0.1 -20.7,1.5 C-18.3,2.9 -16.2,4.8 -15.3,5.4"/><path d="M-32.9,-40.5 C-31.9,-38 -28.8,-30.1 -26.8,-25.3 C-24.8,-20.5 -22.6,-15.1 -20.7,-11.5 C-18.8,-7.9 -16.2,-5.1 -15.3,-3.8"/><path d="M-11.5,13 C-13.5,12.8 -20.9,11 -23.7,11.5 C-26.5,12 -27.8,13.3 -28.3,16.1 C-28.8,18.9 -28.1,24.5 -26.8,28.3 C-25.5,32.1 -22.4,35.2 -20.7,39 C-19,42.8 -16.3,48 -16.8,51.3 C-17.3,54.6 -22,56.6 -23.7,58.9 C-25.4,61.2 -26.3,64.1 -26.8,65.1"/><path d="M6.9,13 C8.9,12.8 15,12.5 19.1,11.5 C23.2,10.5 28.8,6.1 31.4,6.9 C33.9,7.7 34.4,12.5 34.4,16.1 C34.4,19.7 30.4,25.5 31.4,28.3 C32.4,31.1 37.3,32.6 40.6,32.9 C43.9,33.1 49.5,30.3 51.3,29.8"/><path d="M-17.6,34.4 C-14.8,33.4 -6.9,30.3 -0.8,28.3 C5.3,26.3 14,23.5 19.1,22.2 C24.2,20.9 28,20.9 29.8,20.7"/><path d="M-14.5,37.5 C-10.9,38 -0.7,38.8 6.9,40.6 C14.6,42.4 26.3,45.4 31.4,48.2 C36.5,51 37,54.1 37.5,57.4 C38,60.7 34.9,66.3 34.4,68.1"/><path d="M9.9,37.5 C11.2,39.3 14.8,45.7 17.6,48.2 C20.4,50.8 23.5,52.5 26.8,52.8 C30.1,53 35.7,50.2 37.5,49.7"/><path d="M-14.5,37.5 C-11.3,38.6 -2.9,41.9 4.8,43.9 C12.5,45.9 25.9,47.3 31.8,49.3 C37.6,51.3 34.7,52.9 39.9,56 C45.1,59.1 59.1,66.2 62.9,68.2"/><path d="M23.7,74.9 C26.4,71.8 36.3,60.5 39.9,56 C43.5,51.5 43.7,51.9 45.3,47.9 C46.9,43.9 50.8,34.9 49.4,31.7 C48,28.6 40.1,30.4 37.2,29 C34.3,27.6 32.7,24.5 31.8,23.6"/><path d="M4.8,-35.8 C7.5,-34.4 16.5,-29.7 21,-27.7 C25.5,-25.7 27.1,-24.1 31.8,-23.6 C36.5,-23.2 45.4,-23.6 49.4,-25 C53.4,-26.4 55.6,-29.4 56.1,-31.7 C56.6,-34 54.4,-37.6 52.1,-38.5 C49.9,-39.4 45.5,-38.7 42.6,-37.1 C39.7,-35.5 35.9,-30.4 34.5,-29"/><path d="M15,8 L25,12 L36.2,15.7 L52.6,24.5 L38.7,-3.8 L80.3,22.6 L53.9,-17.1"/></g><g transform="translate(1370.8,827.9) scale(1,1)"><path d="M-12.2,-85.7 C-14.6,-83.3 -24.1,-74.4 -26.8,-71.1 C-29.5,-67.8 -28.8,-67.1 -28.3,-65.8 C-27.8,-64.5 -30.1,-63.5 -23.7,-63.5 C-17.3,-63.5 1,-65.3 9.9,-65.8 C18.8,-66.3 23.7,-66.7 29.8,-66.6 C35.9,-66.5 43.5,-64.3 46.7,-65.1 C49.9,-65.9 49.8,-68.7 49,-71.2 C48.2,-73.8 44.4,-77.5 42.1,-80.4 C39.8,-83.3 36.4,-87.4 35.2,-88.8"/><path d="M-59.7,-16.1 C-60.2,-20.2 -62.1,-33.2 -62.7,-40.5 C-63.3,-47.8 -63.8,-56 -63.5,-59.7 C-63.2,-63.4 -62.1,-63.1 -61.2,-62.7 C-60.3,-62.3 -60,-62.4 -58.1,-57.4 C-56.2,-52.4 -52.1,-39 -49.7,-32.9 C-47.3,-26.8 -45.2,-20.9 -43.6,-20.7 C-42,-20.4 -40.6,-27.3 -39.8,-31.4 C-39,-35.5 -39.6,-42.3 -39,-45.2 C-38.4,-48.1 -40,-47.2 -35.9,-49 C-31.8,-50.8 -22.1,-53.5 -14.5,-55.9 C-6.9,-58.3 5.8,-62.2 9.9,-63.5"/><path d="M-34.4,-42.1 C-33.4,-41.7 -32.6,-40.4 -28.3,-39.8 C-24,-39.2 -14.8,-39.1 -8.4,-38.3 C-2,-37.5 5.8,-36.6 9.9,-35.2 C14,-33.8 14.6,-32 16.1,-29.8 C17.6,-27.6 19.4,-24.8 19.1,-22.2 C18.8,-19.6 16,-16.3 14.5,-14.5 C13,-12.7 10.7,-12 9.9,-11.5"/><path d="M9.9,-64.3 C9.5,-62.6 7.4,-58.4 7.7,-54.2 C8,-50 9.3,-43.2 11.5,-38.9 C13.7,-34.6 17.9,-31.3 20.7,-28.2 C23.5,-25.1 27.3,-23 28.3,-20.5 C29.3,-18 28.1,-15 26.8,-13 C25.5,-11 22.5,-9.4 20.7,-8.4 C18.9,-7.4 16.9,-7.2 16.1,-6.9"/><path d="M-94.9,-15.3 C-93,-13.1 -87.4,-6 -83.4,-2.3 C-79.5,1.4 -74.5,6.4 -71.2,6.9 C-67.9,7.4 -66.3,3.7 -63.5,0.8 C-60.7,-2.1 -57.6,-7.9 -54.3,-10.7 C-51,-13.5 -47.4,-14.7 -43.6,-16.1 C-39.8,-17.5 -34.7,-19.1 -31.4,-19.1 C-28.1,-19.1 -26,-17.9 -23.7,-16.1 C-21.4,-14.3 -18.6,-9.7 -17.6,-8.4"/><path d="M-81.9,50.5 C-79.1,50.5 -69.8,50.9 -65,50.5 C-60.1,50.1 -55.3,50.6 -52.8,48.2 C-50.2,45.8 -50.2,41.9 -49.7,36 C-49.2,30.1 -50.2,18.6 -49.7,13 C-49.2,7.4 -48.5,5 -46.7,2.3 C-44.9,-0.4 -41.8,-2.2 -39,-3.1 C-36.2,-4 -32.9,-3.9 -29.8,-3.1 C-26.8,-2.3 -23.1,0.1 -20.7,1.5 C-18.3,2.9 -16.2,4.8 -15.3,5.4"/><path d="M-32.9,-40.5 C-31.9,-38 -28.8,-30.1 -26.8,-25.3 C-24.8,-20.5 -22.6,-15.1 -20.7,-11.5 C-18.8,-7.9 -16.2,-5.1 -15.3,-3.8"/><path d="M-11.5,13 C-13.5,12.8 -20.9,11 -23.7,11.5 C-26.5,12 -27.8,13.3 -28.3,16.1 C-28.8,18.9 -28.1,24.5 -26.8,28.3 C-25.5,32.1 -22.4,35.2 -20.7,39 C-19,42.8 -16.3,48 -16.8,51.3 C-17.3,54.6 -22,56.6 -23.7,58.9 C-25.4,61.2 -26.3,64.1 -26.8,65.1"/><path d="M6.9,13 C8.9,12.8 15,12.5 19.1,11.5 C23.2,10.5 28.8,6.1 31.4,6.9 C33.9,7.7 34.4,12.5 34.4,16.1 C34.4,19.7 30.4,25.5 31.4,28.3 C32.4,31.1 37.3,32.6 40.6,32.9 C43.9,33.1 49.5,30.3 51.3,29.8"/><path d="M-17.6,34.4 C-14.8,33.4 -6.9,30.3 -0.8,28.3 C5.3,26.3 14,23.5 19.1,22.2 C24.2,20.9 28,20.9 29.8,20.7"/><path d="M-14.5,37.5 C-10.9,38 -0.7,38.8 6.9,40.6 C14.6,42.4 26.3,45.4 31.4,48.2 C36.5,51 37,54.1 37.5,57.4 C38,60.7 34.9,66.3 34.4,68.1"/><path d="M9.9,37.5 C11.2,39.3 14.8,45.7 17.6,48.2 C20.4,50.8 23.5,52.5 26.8,52.8 C30.1,53 35.7,50.2 37.5,49.7"/><path d="M-14.5,37.5 C-11.3,38.6 -2.9,41.9 4.8,43.9 C12.5,45.9 25.9,47.3 31.8,49.3 C37.6,51.3 34.7,52.9 39.9,56 C45.1,59.1 59.1,66.2 62.9,68.2"/><path d="M23.7,74.9 C26.4,71.8 36.3,60.5 39.9,56 C43.5,51.5 43.7,51.9 45.3,47.9 C46.9,43.9 50.8,34.9 49.4,31.7 C48,28.6 40.1,30.4 37.2,29 C34.3,27.6 32.7,24.5 31.8,23.6"/><path d="M4.8,-35.8 C7.5,-34.4 16.5,-29.7 21,-27.7 C25.5,-25.7 27.1,-24.1 31.8,-23.6 C36.5,-23.2 45.4,-23.6 49.4,-25 C53.4,-26.4 55.6,-29.4 56.1,-31.7 C56.6,-34 54.4,-37.6 52.1,-38.5 C49.9,-39.4 45.5,-38.7 42.6,-37.1 C39.7,-35.5 35.9,-30.4 34.5,-29"/><path d="M15,8 L25,12 L36.2,15.7 L52.6,24.5 L38.7,-3.8 L80.3,22.6 L53.9,-17.1"/></g></g>
<ellipse cx="1266.2" cy="786.2" rx="14.7" ry="5.7" fill="#2a0014" opacity="0.75" filter="url(#blur2)"/><circle cx="1265.2" cy="774" r="16.3" fill="url(#sph)" stroke="#0a5a0a" stroke-width="0.8"/>
<ellipse cx="1266.2" cy="915" rx="14.7" ry="5.7" fill="#2a0014" opacity="0.75" filter="url(#blur2)"/><circle cx="1265.2" cy="902.8" r="16.3" fill="url(#sph)" stroke="#0a5a0a" stroke-width="0.8"/>
<ellipse cx="1371.8" cy="840.1" rx="14.7" ry="5.7" fill="#2a0014" opacity="0.75" filter="url(#blur2)"/><circle cx="1370.8" cy="827.9" r="16.3" fill="url(#sph)" stroke="#0a5a0a" stroke-width="0.8"/>
<g fill="none" stroke="#000" stroke-width="2" stroke-linecap="round" stroke-linejoin="round"><path d="M983,820.1 H1159"/><path d="M1145,812.7 L1159.2,820.1 L1145,827.6"/><path d="M985,836.6 H1160"/><path d="M998.4,829.6 L984.9,836.6 L998.4,844.5"/></g>
<g font-family="Liberation Sans, sans-serif" font-weight="bold" font-size="33"><text transform="translate(1071,801.2) scale(0.82,1)" text-anchor="middle" fill="#9aa" opacity="0.5" dx="1.5" dy="1.5">T &gt; LCST</text><text transform="translate(1071,801.2) scale(0.82,1)" text-anchor="middle" fill="url(#rg)" stroke="url(#rg)" stroke-width="0.5">T &gt; LCST</text><text transform="translate(1070,882.3) scale(0.82,1)" text-anchor="middle" fill="#9aa" opacity="0.5" dx="1.5" dy="1.5">T &lt; LCST</text><text transform="translate(1070,882.3) scale(0.82,1)" text-anchor="middle" fill="url(#bg)" stroke="url(#bg)" stroke-width="0.5">T &lt; LCST</text></g>
</svg>
</body></html>
